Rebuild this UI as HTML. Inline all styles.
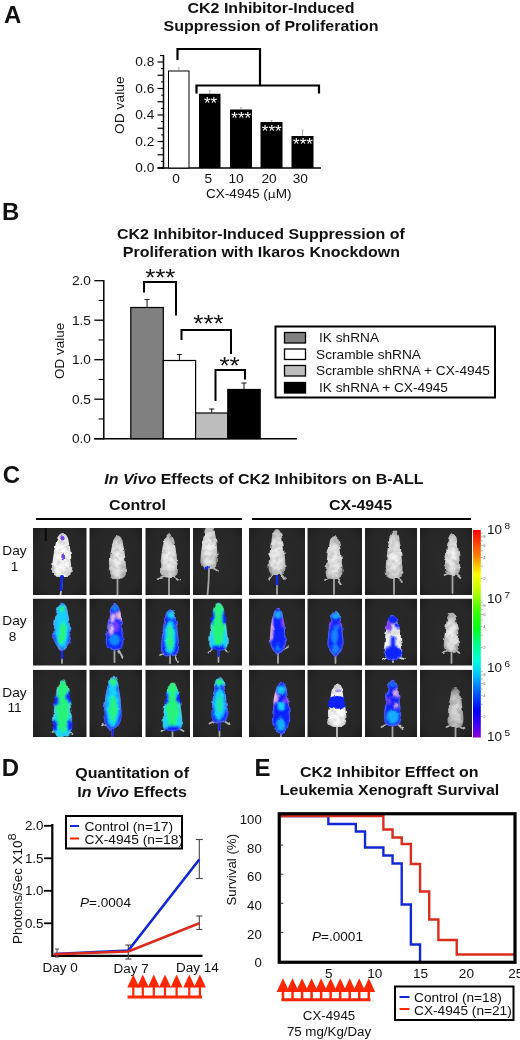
<!DOCTYPE html>
<html lang="en"><head><meta charset="utf-8"><title>CK2 inhibitor figure</title>
<style>html,body{margin:0;padding:0;background:#fff;}svg{display:block;font-family:'Liberation Sans', sans-serif;}text{white-space:pre;}</style></head><body>
<svg width="520" height="1040" viewBox="0 0 520 1040">
<defs>
<linearGradient id="cbar" x1="0" y1="0" x2="0" y2="1">
<stop offset="0" stop-color="#ff0000"/>
<stop offset="0.125" stop-color="#ff8000"/>
<stop offset="0.215" stop-color="#ffff00"/>
<stop offset="0.29" stop-color="#c0ff00"/>
<stop offset="0.385" stop-color="#40ff00"/>
<stop offset="0.48" stop-color="#00ff20"/>
<stop offset="0.555" stop-color="#00ff90"/>
<stop offset="0.63" stop-color="#00ffe0"/>
<stop offset="0.7" stop-color="#00c0ff"/>
<stop offset="0.78" stop-color="#0060ff"/>
<stop offset="0.87" stop-color="#0000ff"/>
<stop offset="0.94" stop-color="#4000ff"/>
<stop offset="1" stop-color="#9000d0"/>
</linearGradient>
<radialGradient id="tilebg" cx="0.5" cy="0.5" r="0.75"><stop offset="0" stop-color="#2b2b2b"/><stop offset="0.7" stop-color="#262626"/><stop offset="1" stop-color="#1c1c1c"/></radialGradient>
<radialGradient id="mg0" cx="0.5" cy="0.55" r="0.6"><stop offset="0" stop-color="#ffffff"/><stop offset="0.7" stop-color="#f4f4f4"/><stop offset="1" stop-color="#c4c4c4"/></radialGradient>
<radialGradient id="mg1" cx="0.5" cy="0.55" r="0.6"><stop offset="0" stop-color="#f6f6f6"/><stop offset="0.6" stop-color="#dedede"/><stop offset="1" stop-color="#a0a0a0"/></radialGradient>
<radialGradient id="mg2" cx="0.5" cy="0.6" r="0.6"><stop offset="0" stop-color="#e0e0e0"/><stop offset="0.6" stop-color="#c0c0c0"/><stop offset="1" stop-color="#8a8a8a"/></radialGradient>
<filter id="mb1" x="-20%" y="-20%" width="140%" height="140%"><feGaussianBlur stdDeviation="0.55"/></filter>
<filter id="tb" x="-300%" y="-10%" width="700%" height="120%"><feGaussianBlur stdDeviation="0.35"/></filter>
<filter id="body" x="-20%" y="-20%" width="140%" height="140%"><feGaussianBlur stdDeviation="0.55" result="b"/><feTurbulence type="fractalNoise" baseFrequency="0.2" numOctaves="2" seed="11" result="n"/><feColorMatrix in="n" type="matrix" values="0 0 0 0 0  0 0 0 0 0  0 0 0 0 0  0.75 0 0 0 -0.29" result="a"/><feComposite in="a" in2="b" operator="in" result="sh"/><feMerge><feMergeNode in="b"/><feMergeNode in="sh"/></feMerge></filter>
<filter id="mb2" x="-20%" y="-20%" width="140%" height="140%"><feGaussianBlur stdDeviation="1.1"/></filter>
<filter id="fur" x="-30%" y="-10%" width="160%" height="120%"><feTurbulence type="fractalNoise" baseFrequency="0.16" numOctaves="2" seed="7" result="n"/><feDisplacementMap in="SourceGraphic" in2="n" scale="3.6" xChannelSelector="R" yChannelSelector="G"/><feGaussianBlur stdDeviation="0.35"/></filter>
</defs>
<rect x="0" y="0" width="520" height="1040" fill="#fff" stroke="none" stroke-width="0" />
<g id="panelA">
<text transform="translate(4,22.9) scale(1,1.03)" font-size="24" font-weight="bold" text-anchor="start" fill="#111" >A</text>
<text transform="translate(271,13.1) scale(1,0.925)" font-size="16" font-weight="bold" text-anchor="middle" fill="#111" >CK2 Inhibitor-Induced</text>
<text transform="translate(271.1,31.25) scale(1,0.925)" font-size="16" font-weight="bold" text-anchor="middle" fill="#111" >Suppression of Proliferation</text>
<line x1="163.5" y1="55" x2="163.5" y2="168.75" stroke="#000" stroke-width="1.5" />
<line x1="160" y1="55.5" x2="163.5" y2="55.5" stroke="#000" stroke-width="1.2" />
<line x1="157.5" y1="168.0" x2="321" y2="168.0" stroke="#000" stroke-width="1.5" />
<line x1="157.5" y1="168.0" x2="163.5" y2="168.0" stroke="#000" stroke-width="1.2" />
<line x1="161" y1="161.375" x2="163.5" y2="161.375" stroke="#000" stroke-width="1.0" />
<line x1="157.5" y1="154.75" x2="163.5" y2="154.75" stroke="#000" stroke-width="1.2" />
<line x1="161" y1="148.125" x2="163.5" y2="148.125" stroke="#000" stroke-width="1.0" />
<line x1="157.5" y1="141.5" x2="163.5" y2="141.5" stroke="#000" stroke-width="1.2" />
<line x1="161" y1="134.875" x2="163.5" y2="134.875" stroke="#000" stroke-width="1.0" />
<line x1="157.5" y1="128.25" x2="163.5" y2="128.25" stroke="#000" stroke-width="1.2" />
<line x1="161" y1="121.625" x2="163.5" y2="121.625" stroke="#000" stroke-width="1.0" />
<line x1="157.5" y1="115.0" x2="163.5" y2="115.0" stroke="#000" stroke-width="1.2" />
<line x1="161" y1="108.375" x2="163.5" y2="108.375" stroke="#000" stroke-width="1.0" />
<line x1="157.5" y1="101.75" x2="163.5" y2="101.75" stroke="#000" stroke-width="1.2" />
<line x1="161" y1="95.125" x2="163.5" y2="95.125" stroke="#000" stroke-width="1.0" />
<line x1="157.5" y1="88.49999999999999" x2="163.5" y2="88.49999999999999" stroke="#000" stroke-width="1.2" />
<line x1="161" y1="81.875" x2="163.5" y2="81.875" stroke="#000" stroke-width="1.0" />
<line x1="157.5" y1="75.24999999999999" x2="163.5" y2="75.24999999999999" stroke="#000" stroke-width="1.2" />
<line x1="161" y1="68.625" x2="163.5" y2="68.625" stroke="#000" stroke-width="1.0" />
<line x1="157.5" y1="62.0" x2="163.5" y2="62.0" stroke="#000" stroke-width="1.2" />
<text transform="translate(154.3,172.4) scale(1,0.925)" font-size="13.7" font-weight="normal" text-anchor="end" fill="#111" >0.0</text>
<text transform="translate(154.3,145.9) scale(1,0.925)" font-size="13.7" font-weight="normal" text-anchor="end" fill="#111" >0.2</text>
<text transform="translate(154.3,119.4) scale(1,0.925)" font-size="13.7" font-weight="normal" text-anchor="end" fill="#111" >0.4</text>
<text transform="translate(154.3,92.9) scale(1,0.925)" font-size="13.7" font-weight="normal" text-anchor="end" fill="#111" >0.6</text>
<text transform="translate(154.3,66.4) scale(1,0.925)" font-size="13.7" font-weight="normal" text-anchor="end" fill="#111" >0.8</text>
<text x="0" y="0" font-size="13.8" font-weight="normal" text-anchor="start" fill="#111" transform="translate(123.5,133.9) rotate(-90) scale(1,0.925)">OD value</text>
<line x1="178.75" y1="67.8" x2="178.75" y2="70.5" stroke="#999" stroke-width="0.8" />
<line x1="177.55" y1="67.8" x2="179.95" y2="67.8" stroke="#aaa" stroke-width="0.7" />
<rect x="168.5" y="71.0" width="20.5" height="97.0" fill="#fff" stroke="#000" stroke-width="1" />
<line x1="209.75" y1="90.5" x2="209.75" y2="93.75" stroke="#999" stroke-width="0.8" />
<line x1="208.55" y1="90.5" x2="210.95" y2="90.5" stroke="#aaa" stroke-width="0.7" />
<rect x="199" y="93.75" width="21.5" height="74.25" fill="#000" stroke="none" stroke-width="0" />
<line x1="241.0" y1="107.5" x2="241.0" y2="109.5" stroke="#999" stroke-width="0.8" />
<line x1="239.8" y1="107.5" x2="242.2" y2="107.5" stroke="#aaa" stroke-width="0.7" />
<rect x="230" y="109.5" width="22" height="58.5" fill="#000" stroke="none" stroke-width="0" />
<line x1="271.5" y1="120.5" x2="271.5" y2="122" stroke="#999" stroke-width="0.8" />
<line x1="270.3" y1="120.5" x2="272.7" y2="120.5" stroke="#aaa" stroke-width="0.7" />
<rect x="260.5" y="122" width="22.0" height="46.0" fill="#000" stroke="none" stroke-width="0" />
<line x1="302.5" y1="130" x2="302.5" y2="136" stroke="#999" stroke-width="0.8" />
<line x1="301.3" y1="130" x2="303.7" y2="130" stroke="#aaa" stroke-width="0.7" />
<rect x="291.5" y="136" width="22.0" height="32.0" fill="#000" stroke="none" stroke-width="0" />
<text transform="translate(210.5,109.2) scale(1,0.925)" font-size="17" font-weight="normal" text-anchor="middle" fill="#fff" >**</text>
<text transform="translate(241.2,124.2) scale(1,0.925)" font-size="17" font-weight="normal" text-anchor="middle" fill="#fff" >***</text>
<text transform="translate(271.7,137.2) scale(1,0.925)" font-size="17" font-weight="normal" text-anchor="middle" fill="#fff" >***</text>
<text transform="translate(303,149.7) scale(1,0.925)" font-size="17" font-weight="normal" text-anchor="middle" fill="#fff" >***</text>
<path d="M177.5,60 V49 H260 V85.5" stroke="#000" stroke-width="2.2" fill="none" />
<path d="M196.5,93.5 V85.5 H319 V93.5" stroke="#000" stroke-width="2.2" fill="none" />
<text transform="translate(176,182.5) scale(1,0.925)" font-size="13.7" font-weight="normal" text-anchor="middle" fill="#111" >0</text>
<text transform="translate(208.25,182.5) scale(1,0.925)" font-size="13.7" font-weight="normal" text-anchor="middle" fill="#111" >5</text>
<text transform="translate(236,182.5) scale(1,0.925)" font-size="13.7" font-weight="normal" text-anchor="middle" fill="#111" >10</text>
<text transform="translate(269,182.5) scale(1,0.925)" font-size="13.7" font-weight="normal" text-anchor="middle" fill="#111" >20</text>
<text transform="translate(300.25,182.5) scale(1,0.925)" font-size="13.7" font-weight="normal" text-anchor="middle" fill="#111" >30</text>
<text transform="translate(248.75,197.5) scale(1,0.925)" font-size="13.6" font-weight="normal" text-anchor="middle" fill="#111" >CX-4945 (<tspan font-family="DejaVu Sans, sans-serif" font-size="12.3">μ</tspan>M)</text>
</g>
<g id="panelB">
<text transform="translate(2,220.25) scale(1,1.03)" font-size="24" font-weight="bold" text-anchor="start" fill="#111" >B</text>
<text transform="translate(260.9,238.7) scale(1,0.925)" font-size="16" font-weight="bold" text-anchor="middle" fill="#111" >CK2 Inhibitor-Induced Suppression of</text>
<text transform="translate(261.4,256.7) scale(1,0.925)" font-size="16" font-weight="bold" text-anchor="middle" fill="#111" >Proliferation with Ikaros Knockdown</text>
<line x1="103.8" y1="280.0" x2="103.8" y2="439.45" stroke="#000" stroke-width="1.5" />
<line x1="94.3" y1="438.7" x2="297" y2="438.7" stroke="#000" stroke-width="1.5" />
<line x1="94.3" y1="438.7" x2="103.8" y2="438.7" stroke="#000" stroke-width="1.3" />
<line x1="98.6" y1="418.95" x2="103.8" y2="418.95" stroke="#000" stroke-width="1.1" />
<line x1="94.3" y1="399.2" x2="103.8" y2="399.2" stroke="#000" stroke-width="1.3" />
<line x1="98.6" y1="379.45" x2="103.8" y2="379.45" stroke="#000" stroke-width="1.1" />
<line x1="94.3" y1="359.7" x2="103.8" y2="359.7" stroke="#000" stroke-width="1.3" />
<line x1="98.6" y1="339.95" x2="103.8" y2="339.95" stroke="#000" stroke-width="1.1" />
<line x1="94.3" y1="320.2" x2="103.8" y2="320.2" stroke="#000" stroke-width="1.3" />
<line x1="98.6" y1="300.45" x2="103.8" y2="300.45" stroke="#000" stroke-width="1.1" />
<line x1="94.3" y1="280.7" x2="103.8" y2="280.7" stroke="#000" stroke-width="1.3" />
<text transform="translate(91,443.09999999999997) scale(1,0.925)" font-size="13.7" font-weight="normal" text-anchor="end" fill="#111" >0.0</text>
<text transform="translate(91,403.59999999999997) scale(1,0.925)" font-size="13.7" font-weight="normal" text-anchor="end" fill="#111" >0.5</text>
<text transform="translate(91,364.09999999999997) scale(1,0.925)" font-size="13.7" font-weight="normal" text-anchor="end" fill="#111" >1.0</text>
<text transform="translate(91,324.59999999999997) scale(1,0.925)" font-size="13.7" font-weight="normal" text-anchor="end" fill="#111" >1.5</text>
<text transform="translate(91,285.09999999999997) scale(1,0.925)" font-size="13.7" font-weight="normal" text-anchor="end" fill="#111" >2.0</text>
<text x="0" y="0" font-size="13.5" font-weight="normal" text-anchor="start" fill="#111" transform="translate(63.7,379) rotate(-90) scale(1,0.925)">OD value</text>
<line x1="147.05" y1="299.5" x2="147.05" y2="307" stroke="#222" stroke-width="1.1" />
<line x1="144.55" y1="299.5" x2="149.55" y2="299.5" stroke="#222" stroke-width="1.1" />
<rect x="130.8" y="307.5" width="32.5" height="131.2" fill="#808080" stroke="#000" stroke-width="1.2" />
<line x1="179.45" y1="354.5" x2="179.45" y2="360" stroke="#222" stroke-width="1.1" />
<line x1="176.95" y1="354.5" x2="181.95" y2="354.5" stroke="#222" stroke-width="1.1" />
<rect x="163.3" y="360.5" width="32.29999999999998" height="78.19999999999999" fill="#fff" stroke="#000" stroke-width="1.2" />
<line x1="211.7" y1="409" x2="211.7" y2="412.5" stroke="#222" stroke-width="1.1" />
<line x1="209.2" y1="409" x2="214.2" y2="409" stroke="#222" stroke-width="1.1" />
<rect x="195.6" y="413.0" width="32.20000000000002" height="25.69999999999999" fill="#bdbdbd" stroke="#000" stroke-width="1.2" />
<line x1="244.0" y1="383" x2="244.0" y2="389" stroke="#222" stroke-width="1.1" />
<line x1="241.5" y1="383" x2="246.5" y2="383" stroke="#222" stroke-width="1.1" />
<rect x="227.8" y="389.5" width="32.39999999999998" height="49.19999999999999" fill="#000" stroke="#000" stroke-width="1.2" />
<path d="M144,292.5 V282 H176 V315.5" stroke="#000" stroke-width="2" fill="none" />
<path d="M181.5,340 V330 H231 V354" stroke="#000" stroke-width="2" fill="none" />
<path d="M215.5,401 V370 H245 V379.5" stroke="#000" stroke-width="2" fill="none" />
<text transform="translate(160.3,286.2) scale(1,0.925)" font-size="26" font-weight="normal" text-anchor="middle" fill="#111" >***</text>
<text transform="translate(208.5,332.2) scale(1,0.925)" font-size="26" font-weight="normal" text-anchor="middle" fill="#111" >***</text>
<text transform="translate(229.5,373.5) scale(1,0.925)" font-size="26" font-weight="normal" text-anchor="middle" fill="#111" >**</text>
<rect x="275.5" y="326.5" width="219.5" height="71" fill="#fff" stroke="#000" stroke-width="2" />
<rect x="284.5" y="332.5" width="21" height="10.5" fill="#808080" stroke="#000" stroke-width="1.3" />
<text transform="translate(319,342.2) scale(1,0.925)" font-size="13.7" font-weight="normal" text-anchor="start" fill="#111" >IK shRNA</text>
<rect x="284.5" y="349" width="21" height="10.5" fill="#fff" stroke="#000" stroke-width="1.3" />
<text transform="translate(316,358.7) scale(1,0.925)" font-size="13.7" font-weight="normal" text-anchor="start" fill="#111" >Scramble shRNA</text>
<rect x="284.5" y="365.5" width="21" height="10.5" fill="#bdbdbd" stroke="#000" stroke-width="1.3" />
<text transform="translate(316,375.2) scale(1,0.925)" font-size="13.7" font-weight="normal" text-anchor="start" fill="#111" >Scramble shRNA + CX-4945</text>
<rect x="284.5" y="382.5" width="21" height="10.5" fill="#000" stroke="#000" stroke-width="1.3" />
<text transform="translate(319,392.2) scale(1,0.925)" font-size="13.7" font-weight="normal" text-anchor="start" fill="#111" >IK shRNA + CX-4945</text>
</g>
<g id="panelC">
<text transform="translate(2.65,482.5) scale(1,1.03)" font-size="24" font-weight="bold" text-anchor="start" fill="#111" >C</text>
<text transform="translate(264,483.5) scale(1,0.925)" font-size="16" font-weight="bold" text-anchor="middle" fill="#111" ><tspan font-style="italic">In Vivo</tspan> Effects of CK2 Inhibitors on B-ALL</text>
<text transform="translate(137.5,510) scale(1,0.925)" font-size="16" font-weight="bold" text-anchor="middle" fill="#111" >Control</text>
<text transform="translate(360.5,510) scale(1,0.925)" font-size="16" font-weight="bold" text-anchor="middle" fill="#111" >CX-4945</text>
<line x1="36" y1="519" x2="242" y2="519" stroke="#000" stroke-width="2.2" />
<line x1="252" y1="519" x2="471" y2="519" stroke="#000" stroke-width="2.2" />
<text transform="translate(14.5,555.3) scale(1,0.925)" font-size="13.7" font-weight="normal" text-anchor="middle" fill="#111" >Day</text>
<text transform="translate(14.5,570.6) scale(1,0.925)" font-size="13.7" font-weight="normal" text-anchor="middle" fill="#111" >1</text>
<text transform="translate(14.5,625.3) scale(1,0.925)" font-size="13.7" font-weight="normal" text-anchor="middle" fill="#111" >Day</text>
<text transform="translate(12.5,640.8) scale(1,0.925)" font-size="13.7" font-weight="normal" text-anchor="middle" fill="#111" >8</text>
<text transform="translate(14.5,696.7) scale(1,0.925)" font-size="13.7" font-weight="normal" text-anchor="middle" fill="#111" >Day</text>
<text transform="translate(14.5,712) scale(1,0.925)" font-size="13.7" font-weight="normal" text-anchor="middle" fill="#111" >11</text>
<rect x="33" y="528" width="53.5" height="67" fill="url(#tilebg)" stroke="none" stroke-width="0" />
<rect x="89.5" y="528" width="52.5" height="67" fill="url(#tilebg)" stroke="none" stroke-width="0" />
<rect x="145.5" y="528" width="44.5" height="67" fill="url(#tilebg)" stroke="none" stroke-width="0" />
<rect x="193" y="528" width="49" height="67" fill="url(#tilebg)" stroke="none" stroke-width="0" />
<rect x="249" y="528" width="56" height="67" fill="url(#tilebg)" stroke="none" stroke-width="0" />
<rect x="307.5" y="528" width="54.5" height="67" fill="url(#tilebg)" stroke="none" stroke-width="0" />
<rect x="365" y="528" width="52" height="67" fill="url(#tilebg)" stroke="none" stroke-width="0" />
<rect x="420" y="528" width="52" height="67" fill="url(#tilebg)" stroke="none" stroke-width="0" />
<rect x="33" y="598.5" width="53.5" height="67.20000000000005" fill="url(#tilebg)" stroke="none" stroke-width="0" />
<rect x="89.5" y="598.5" width="52.5" height="67.20000000000005" fill="url(#tilebg)" stroke="none" stroke-width="0" />
<rect x="145.5" y="598.5" width="44.5" height="67.20000000000005" fill="url(#tilebg)" stroke="none" stroke-width="0" />
<rect x="193" y="598.5" width="49" height="67.20000000000005" fill="url(#tilebg)" stroke="none" stroke-width="0" />
<rect x="249" y="598.5" width="56" height="67.20000000000005" fill="url(#tilebg)" stroke="none" stroke-width="0" />
<rect x="307.5" y="598.5" width="54.5" height="67.20000000000005" fill="url(#tilebg)" stroke="none" stroke-width="0" />
<rect x="365" y="598.5" width="52" height="67.20000000000005" fill="url(#tilebg)" stroke="none" stroke-width="0" />
<rect x="420" y="598.5" width="52" height="67.20000000000005" fill="url(#tilebg)" stroke="none" stroke-width="0" />
<rect x="33" y="669.7" width="53.5" height="67.29999999999995" fill="url(#tilebg)" stroke="none" stroke-width="0" />
<rect x="89.5" y="669.7" width="52.5" height="67.29999999999995" fill="url(#tilebg)" stroke="none" stroke-width="0" />
<rect x="145.5" y="669.7" width="44.5" height="67.29999999999995" fill="url(#tilebg)" stroke="none" stroke-width="0" />
<rect x="193" y="669.7" width="49" height="67.29999999999995" fill="url(#tilebg)" stroke="none" stroke-width="0" />
<rect x="249" y="669.7" width="56" height="67.29999999999995" fill="url(#tilebg)" stroke="none" stroke-width="0" />
<rect x="307.5" y="669.7" width="54.5" height="67.29999999999995" fill="url(#tilebg)" stroke="none" stroke-width="0" />
<rect x="365" y="669.7" width="52" height="67.29999999999995" fill="url(#tilebg)" stroke="none" stroke-width="0" />
<rect x="420" y="669.7" width="52" height="67.29999999999995" fill="url(#tilebg)" stroke="none" stroke-width="0" />
<g opacity="0.92">
<path d="M62.0,574.0 Q62.0,586.0 60.5,595.0" stroke="#cfcfcf" stroke-width="1.8" fill="none" stroke-linecap="round"/>
<line x1="62" y1="577" x2="60.916666666666664" y2="590" stroke="#1428ff" stroke-width="2.6" stroke-linecap="round"/>
</g>
<g filter="url(#fur)">
<path d="M67.0,574.0 L72.0,572.0" stroke="#dcdcdc" stroke-width="1.8" fill="none" stroke-linecap="round"/>
<path d="M62.6,533.0 Q63.8,533.0 64.8,533.7 Q65.7,534.3 66.5,535.4 Q67.3,536.5 67.9,537.8 Q68.5,539.2 68.6,540.9 Q68.8,542.7 69.3,544.4 Q69.8,546.2 70.1,548.4 Q70.5,550.6 70.8,553.2 Q71.1,555.9 71.3,558.1 Q71.6,560.3 71.9,562.5 Q72.2,564.7 72.2,566.9 Q72.3,569.1 72.1,570.8 Q72.0,572.6 71.2,573.7 Q70.4,574.8 69.0,575.6 Q67.6,576.3 66.4,576.7 Q65.1,577.0 62.0,577.0 Q58.9,577.0 57.6,576.7 Q56.4,576.3 55.0,575.6 Q53.6,574.8 52.8,573.7 Q52.1,572.6 52.0,570.8 Q51.8,569.1 51.9,566.9 Q52.1,564.7 52.4,562.5 Q52.7,560.3 53.1,558.1 Q53.4,555.9 53.8,553.2 Q54.1,550.6 54.6,548.4 Q55.0,546.2 55.5,544.4 Q56.1,542.7 56.3,540.9 Q56.6,539.2 57.2,537.8 Q57.8,536.5 58.7,535.4 Q59.5,534.3 60.5,533.7 Q61.4,533.0 62.6,533.0Z" fill="url(#mg0)" filter="url(#body)"/>
<clipPath id="mc1"><path d="M62.6,533.0 Q63.8,533.0 64.8,533.7 Q65.7,534.3 66.5,535.4 Q67.3,536.5 67.9,537.8 Q68.5,539.2 68.6,540.9 Q68.8,542.7 69.3,544.4 Q69.8,546.2 70.1,548.4 Q70.5,550.6 70.8,553.2 Q71.1,555.9 71.3,558.1 Q71.6,560.3 71.9,562.5 Q72.2,564.7 72.2,566.9 Q72.3,569.1 72.1,570.8 Q72.0,572.6 71.2,573.7 Q70.4,574.8 69.0,575.6 Q67.6,576.3 66.4,576.7 Q65.1,577.0 62.0,577.0 Q58.9,577.0 57.6,576.7 Q56.4,576.3 55.0,575.6 Q53.6,574.8 52.8,573.7 Q52.1,572.6 52.0,570.8 Q51.8,569.1 51.9,566.9 Q52.1,564.7 52.4,562.5 Q52.7,560.3 53.1,558.1 Q53.4,555.9 53.8,553.2 Q54.1,550.6 54.6,548.4 Q55.0,546.2 55.5,544.4 Q56.1,542.7 56.3,540.9 Q56.6,539.2 57.2,537.8 Q57.8,536.5 58.7,535.4 Q59.5,534.3 60.5,533.7 Q61.4,533.0 62.6,533.0Z" transform="translate(62.0,555.0) scale(1.10,1.04) translate(-62.0,-555.0)"/></clipPath>
<g clip-path="url(#mc1)"><g filter="url(#mb1)">
<ellipse cx="62.5" cy="538.3" rx="2.1" ry="2.2" fill="#4a18e8" opacity="0.8"/>
<ellipse cx="62.7" cy="557.2" rx="1.4" ry="3.1" fill="#4a18e8" opacity="0.8"/>
<ellipse cx="62.0" cy="576.3" rx="1.8" ry="1.3" fill="#0a22ff" opacity="1"/>
</g></g>
</g>
<line x1="45.7" y1="528" x2="45.7" y2="541" stroke="#080808" stroke-width="1.8" />
<g opacity="0.92">
<path d="M117.5,576.0 Q117.5,587.0 117.5,595.0" stroke="#b0b0b0" stroke-width="1.8" fill="none" stroke-linecap="round"/>
</g>
<g filter="url(#fur)">
<path d="M117.8,535.5 Q118.9,535.5 119.7,536.2 Q120.5,536.8 121.2,537.9 Q121.8,539.0 122.4,540.3 Q122.9,541.6 123.0,543.3 Q123.2,545.1 123.6,546.8 Q124.0,548.5 124.4,550.7 Q124.7,552.9 124.9,555.5 Q125.2,558.1 125.4,560.3 Q125.6,562.5 125.9,564.6 Q126.1,566.8 126.2,569.0 Q126.3,571.2 126.1,572.9 Q126.0,574.6 125.3,575.7 Q124.7,576.8 123.5,577.6 Q122.3,578.3 121.2,578.7 Q120.1,579.0 117.5,579.0 Q114.9,579.0 113.8,578.7 Q112.7,578.3 111.5,577.6 Q110.3,576.8 109.7,575.7 Q109.0,574.6 108.9,572.9 Q108.8,571.2 108.9,569.0 Q109.0,566.8 109.3,564.6 Q109.5,562.5 109.8,560.3 Q110.1,558.1 110.4,555.5 Q110.7,552.9 111.1,550.7 Q111.4,548.5 111.9,546.8 Q112.3,545.1 112.5,543.3 Q112.7,541.6 113.3,540.3 Q113.8,539.0 114.5,537.9 Q115.2,536.8 116.0,536.2 Q116.8,535.5 117.8,535.5Z" fill="url(#mg1)" filter="url(#body)"/>
</g>
<g opacity="0.92">
<path d="M169.0,574.5 Q169.0,586.2 169.0,595.0" stroke="#b0b0b0" stroke-width="1.8" fill="none" stroke-linecap="round"/>
</g>
<g filter="url(#fur)">
<path d="M164.0,576.0 L158.0,578.5" stroke="#b4b4b4" stroke-width="1.8" fill="none" stroke-linecap="round"/>
<path d="M174.0,576.0 L180.0,579.5" stroke="#b4b4b4" stroke-width="1.8" fill="none" stroke-linecap="round"/>
<path d="M169.0,534.0 Q170.1,534.0 170.9,534.7 Q171.7,535.3 172.4,536.4 Q173.1,537.5 173.7,538.8 Q174.2,540.1 174.4,541.8 Q174.6,543.6 175.0,545.3 Q175.5,547.0 175.8,549.2 Q176.2,551.4 176.5,554.0 Q176.7,556.6 177.0,558.8 Q177.3,561.0 177.6,563.1 Q177.8,565.3 177.9,567.5 Q178.0,569.7 177.9,571.4 Q177.7,573.1 177.1,574.2 Q176.4,575.3 175.2,576.1 Q173.9,576.8 172.8,577.2 Q171.7,577.5 169.0,577.5 Q166.3,577.5 165.2,577.2 Q164.1,576.8 162.8,576.1 Q161.6,575.3 160.9,574.2 Q160.3,573.1 160.1,571.4 Q160.0,569.7 160.1,567.5 Q160.2,565.3 160.4,563.1 Q160.7,561.0 161.0,558.8 Q161.3,556.6 161.5,554.0 Q161.8,551.4 162.2,549.2 Q162.5,547.0 163.0,545.3 Q163.4,543.6 163.6,541.8 Q163.8,540.1 164.3,538.8 Q164.9,537.5 165.6,536.4 Q166.3,535.3 167.1,534.7 Q167.9,534.0 169.0,534.0Z" fill="url(#mg1)" filter="url(#body)"/>
</g>
<g opacity="0.92">
<path d="M209.0,566.0 Q209.0,582.0 207.5,595.0" stroke="#b0b0b0" stroke-width="1.8" fill="none" stroke-linecap="round"/>
</g>
<g filter="url(#fur)">
<path d="M213.0,568.0 L218.0,571.0" stroke="#b4b4b4" stroke-width="1.8" fill="none" stroke-linecap="round"/>
<path d="M209.9,524.0 Q210.9,524.0 211.7,524.7 Q212.5,525.4 213.1,526.5 Q213.8,527.6 214.3,529.0 Q214.8,530.3 214.9,532.1 Q215.1,533.9 215.5,535.7 Q215.9,537.5 216.2,539.8 Q216.5,542.0 216.7,544.7 Q216.9,547.4 217.1,549.6 Q217.3,551.9 217.5,554.1 Q217.7,556.4 217.8,558.6 Q217.8,560.9 217.7,562.7 Q217.5,564.5 216.9,565.6 Q216.2,566.8 215.0,567.5 Q213.8,568.3 212.7,568.7 Q211.6,569.0 209.0,569.0 Q206.4,569.0 205.3,568.7 Q204.2,568.3 203.0,567.5 Q201.8,566.8 201.2,565.6 Q200.6,564.5 200.5,562.7 Q200.3,560.9 200.5,558.6 Q200.6,556.4 200.9,554.1 Q201.2,551.9 201.5,549.6 Q201.8,547.4 202.1,544.7 Q202.5,542.0 202.9,539.8 Q203.3,537.5 203.7,535.7 Q204.2,533.9 204.4,532.1 Q204.6,530.3 205.2,529.0 Q205.8,527.6 206.5,526.5 Q207.2,525.4 208.0,524.7 Q208.8,524.0 209.9,524.0Z" fill="url(#mg1)" filter="url(#body)"/>
<clipPath id="mc4"><path d="M209.9,524.0 Q210.9,524.0 211.7,524.7 Q212.5,525.4 213.1,526.5 Q213.8,527.6 214.3,529.0 Q214.8,530.3 214.9,532.1 Q215.1,533.9 215.5,535.7 Q215.9,537.5 216.2,539.8 Q216.5,542.0 216.7,544.7 Q216.9,547.4 217.1,549.6 Q217.3,551.9 217.5,554.1 Q217.7,556.4 217.8,558.6 Q217.8,560.9 217.7,562.7 Q217.5,564.5 216.9,565.6 Q216.2,566.8 215.0,567.5 Q213.8,568.3 212.7,568.7 Q211.6,569.0 209.0,569.0 Q206.4,569.0 205.3,568.7 Q204.2,568.3 203.0,567.5 Q201.8,566.8 201.2,565.6 Q200.6,564.5 200.5,562.7 Q200.3,560.9 200.5,558.6 Q200.6,556.4 200.9,554.1 Q201.2,551.9 201.5,549.6 Q201.8,547.4 202.1,544.7 Q202.5,542.0 202.9,539.8 Q203.3,537.5 203.7,535.7 Q204.2,533.9 204.4,532.1 Q204.6,530.3 205.2,529.0 Q205.8,527.6 206.5,526.5 Q207.2,525.4 208.0,524.7 Q208.8,524.0 209.9,524.0Z" transform="translate(209.0,546.5) scale(1.10,1.04) translate(-209.0,-546.5)"/></clipPath>
<g clip-path="url(#mc4)"><g filter="url(#mb1)">
<ellipse cx="207.3" cy="568.3" rx="2.6" ry="1.8" fill="#0a22ff" opacity="1"/>
</g></g>
</g>
<g opacity="0.92">
<path d="M277.0,572.0 Q277.0,584.5 277.0,594.0" stroke="#b0b0b0" stroke-width="1.8" fill="none" stroke-linecap="round"/>
<line x1="277" y1="575" x2="277.0" y2="584" stroke="#1428ff" stroke-width="2.6" stroke-linecap="round"/>
</g>
<g filter="url(#fur)">
<path d="M273.0,574.0 L269.0,579.0" stroke="#b4b4b4" stroke-width="1.8" fill="none" stroke-linecap="round"/>
<path d="M281.0,574.0 L285.0,579.0" stroke="#b4b4b4" stroke-width="1.8" fill="none" stroke-linecap="round"/>
<path d="M277.0,529.0 Q278.0,529.0 278.8,529.7 Q279.6,530.4 280.2,531.5 Q280.9,532.7 281.4,534.1 Q281.9,535.4 282.1,537.3 Q282.3,539.1 282.7,541.0 Q283.1,542.8 283.5,545.1 Q283.8,547.4 284.1,550.2 Q284.3,552.9 284.6,555.2 Q284.8,557.5 285.1,559.8 Q285.3,562.1 285.4,564.4 Q285.5,566.7 285.4,568.6 Q285.2,570.4 284.6,571.5 Q284.0,572.7 282.8,573.5 Q281.7,574.3 280.6,574.7 Q279.6,575.0 277.0,575.0 Q274.4,575.0 273.4,574.7 Q272.3,574.3 271.2,573.5 Q270.0,572.7 269.4,571.5 Q268.8,570.4 268.6,568.6 Q268.5,566.7 268.6,564.4 Q268.7,562.1 268.9,559.8 Q269.2,557.5 269.4,555.2 Q269.7,552.9 269.9,550.2 Q270.2,547.4 270.5,545.1 Q270.9,542.8 271.3,541.0 Q271.7,539.1 271.9,537.3 Q272.1,535.4 272.6,534.1 Q273.1,532.7 273.8,531.5 Q274.4,530.4 275.2,529.7 Q276.0,529.0 277.0,529.0Z" fill="url(#mg1)" filter="url(#body)"/>
</g>
<g opacity="0.92">
<path d="M334.0,576.0 Q334.0,586.5 334.0,594.0" stroke="#b0b0b0" stroke-width="1.8" fill="none" stroke-linecap="round"/>
</g>
<g filter="url(#fur)">
<path d="M330.0,577.0 L325.0,580.0" stroke="#b4b4b4" stroke-width="1.8" fill="none" stroke-linecap="round"/>
<path d="M338.0,578.0 L342.0,584.0" stroke="#b4b4b4" stroke-width="1.8" fill="none" stroke-linecap="round"/>
<path d="M334.7,536.0 Q335.7,536.0 336.5,536.6 Q337.2,537.3 337.9,538.4 Q338.5,539.4 339.0,540.7 Q339.5,542.0 339.6,543.7 Q339.8,545.5 340.2,547.2 Q340.5,548.9 340.8,551.0 Q341.2,553.2 341.4,555.8 Q341.6,558.4 341.8,560.5 Q342.0,562.7 342.2,564.8 Q342.5,567.0 342.5,569.1 Q342.6,571.3 342.4,573.0 Q342.3,574.7 341.6,575.8 Q341.0,576.9 339.8,577.6 Q338.7,578.4 337.6,578.7 Q336.6,579.0 334.0,579.0 Q331.4,579.0 330.4,578.7 Q329.3,578.4 328.2,577.6 Q327.0,576.9 326.4,575.8 Q325.8,574.7 325.7,573.0 Q325.6,571.3 325.7,569.1 Q325.8,567.0 326.1,564.8 Q326.4,562.7 326.7,560.5 Q327.0,558.4 327.3,555.8 Q327.6,553.2 327.9,551.0 Q328.3,548.9 328.8,547.2 Q329.2,545.5 329.4,543.7 Q329.6,542.0 330.2,540.7 Q330.7,539.4 331.4,538.4 Q332.1,537.3 332.9,536.6 Q333.7,536.0 334.7,536.0Z" fill="url(#mg1)" filter="url(#body)"/>
</g>
<g opacity="0.92">
<path d="M394.0,576.0 Q394.0,586.5 394.0,594.0" stroke="#b0b0b0" stroke-width="1.8" fill="none" stroke-linecap="round"/>
</g>
<g filter="url(#fur)">
<path d="M398.0,578.0 L403.0,582.0" stroke="#b4b4b4" stroke-width="1.8" fill="none" stroke-linecap="round"/>
<path d="M394.5,530.5 Q395.5,530.5 396.3,531.2 Q397.0,532.0 397.7,533.2 Q398.4,534.4 398.9,535.8 Q399.3,537.3 399.5,539.2 Q399.6,541.2 400.0,543.1 Q400.4,545.0 400.8,547.5 Q401.1,549.9 401.3,552.8 Q401.5,555.7 401.7,558.1 Q402.0,560.6 402.2,563.0 Q402.4,565.4 402.5,567.8 Q402.6,570.3 402.4,572.2 Q402.3,574.1 401.6,575.4 Q401.0,576.6 399.8,577.4 Q398.7,578.3 397.6,578.6 Q396.6,579.0 394.0,579.0 Q391.4,579.0 390.4,578.6 Q389.3,578.3 388.2,577.4 Q387.0,576.6 386.4,575.4 Q385.8,574.1 385.7,572.2 Q385.6,570.3 385.7,567.8 Q385.8,565.4 386.0,563.0 Q386.3,560.6 386.6,558.1 Q386.9,555.7 387.2,552.8 Q387.5,549.9 387.8,547.5 Q388.2,545.0 388.6,543.1 Q389.1,541.2 389.3,539.2 Q389.5,537.3 390.0,535.8 Q390.5,534.4 391.2,533.2 Q391.9,532.0 392.7,531.2 Q393.5,530.5 394.5,530.5Z" fill="url(#mg1)" filter="url(#body)"/>
</g>
<g opacity="0.92">
<path d="M452.5,572.0 Q452.5,584.0 452.5,593.0" stroke="#b0b0b0" stroke-width="1.8" fill="none" stroke-linecap="round"/>
</g>
<g filter="url(#fur)">
<path d="M448.5,573.5 L444.5,575.0" stroke="#b4b4b4" stroke-width="1.8" fill="none" stroke-linecap="round"/>
<path d="M456.5,573.5 L460.5,577.0" stroke="#b4b4b4" stroke-width="1.8" fill="none" stroke-linecap="round"/>
<path d="M452.5,533.0 Q453.4,533.0 454.1,533.6 Q454.8,534.3 455.4,535.3 Q456.1,536.4 456.5,537.6 Q457.0,538.9 457.1,540.6 Q457.3,542.2 457.7,543.9 Q458.1,545.6 458.4,547.7 Q458.7,549.8 458.9,552.3 Q459.2,554.8 459.4,556.9 Q459.6,559.0 459.9,561.1 Q460.1,563.2 460.2,565.3 Q460.2,567.4 460.1,569.1 Q460.0,570.8 459.4,571.8 Q458.9,572.9 457.8,573.6 Q456.8,574.4 455.8,574.7 Q454.8,575.0 452.5,575.0 Q450.2,575.0 449.2,574.7 Q448.2,574.4 447.2,573.6 Q446.1,572.9 445.6,571.8 Q445.0,570.8 444.9,569.1 Q444.8,567.4 444.8,565.3 Q444.9,563.2 445.1,561.1 Q445.4,559.0 445.6,556.9 Q445.8,554.8 446.1,552.3 Q446.3,549.8 446.6,547.7 Q446.9,545.6 447.3,543.9 Q447.7,542.2 447.9,540.6 Q448.0,538.9 448.5,537.6 Q448.9,536.4 449.6,535.3 Q450.2,534.3 450.9,533.6 Q451.6,533.0 452.5,533.0Z" fill="url(#mg1)" filter="url(#body)"/>
</g>
<g opacity="0.92">
<path d="M62.0,648.0 Q62.0,657.0 62.0,663.0" stroke="#b0b0b0" stroke-width="1.8" fill="none" stroke-linecap="round"/>
<line x1="62" y1="648" x2="62.0" y2="658" stroke="#1428ff" stroke-width="2.2" stroke-linecap="round"/>
</g>
<g filter="url(#fur)">
<path d="M62.0,603.0 Q63.1,603.0 63.9,603.7 Q64.8,604.4 65.5,605.6 Q66.3,606.8 66.8,608.3 Q67.4,609.7 67.5,611.6 Q67.7,613.6 68.2,615.5 Q68.7,617.4 69.0,619.8 Q69.4,622.2 69.7,625.1 Q70.0,628.0 70.2,630.4 Q70.5,632.8 70.7,635.2 Q71.0,637.6 70.2,640.0 Q69.4,642.4 68.2,644.3 Q67.0,646.2 65.9,647.4 Q64.8,648.6 63.9,649.4 Q63.1,650.3 62.8,650.6 Q62.4,651.0 62.0,651.0 Q61.6,651.0 61.2,650.6 Q60.9,650.3 60.1,649.4 Q59.2,648.6 58.1,647.4 Q57.0,646.2 55.8,644.3 Q54.6,642.4 53.8,640.0 Q53.0,637.6 53.3,635.2 Q53.5,632.8 53.8,630.4 Q54.0,628.0 54.3,625.1 Q54.6,622.2 55.0,619.8 Q55.3,617.4 55.8,615.5 Q56.3,613.6 56.5,611.6 Q56.6,609.7 57.2,608.3 Q57.7,606.8 58.5,605.6 Q59.2,604.4 60.1,603.7 Q60.9,603.0 62.0,603.0Z" fill="url(#mg1)" filter="url(#body)"/>
<clipPath id="mc9"><path d="M62.0,603.0 Q63.1,603.0 63.9,603.7 Q64.8,604.4 65.5,605.6 Q66.3,606.8 66.8,608.3 Q67.4,609.7 67.5,611.6 Q67.7,613.6 68.2,615.5 Q68.7,617.4 69.0,619.8 Q69.4,622.2 69.7,625.1 Q70.0,628.0 70.2,630.4 Q70.5,632.8 70.7,635.2 Q71.0,637.6 70.2,640.0 Q69.4,642.4 68.2,644.3 Q67.0,646.2 65.9,647.4 Q64.8,648.6 63.9,649.4 Q63.1,650.3 62.8,650.6 Q62.4,651.0 62.0,651.0 Q61.6,651.0 61.2,650.6 Q60.9,650.3 60.1,649.4 Q59.2,648.6 58.1,647.4 Q57.0,646.2 55.8,644.3 Q54.6,642.4 53.8,640.0 Q53.0,637.6 53.3,635.2 Q53.5,632.8 53.8,630.4 Q54.0,628.0 54.3,625.1 Q54.6,622.2 55.0,619.8 Q55.3,617.4 55.8,615.5 Q56.3,613.6 56.5,611.6 Q56.6,609.7 57.2,608.3 Q57.7,606.8 58.5,605.6 Q59.2,604.4 60.1,603.7 Q60.9,603.0 62.0,603.0Z" transform="translate(62.0,627.0) scale(1.10,1.04) translate(-62.0,-627.0)"/></clipPath>
<g clip-path="url(#mc9)"><g filter="url(#mb2)">
<path d="M62.0,603.0 Q63.1,603.0 63.9,603.7 Q64.8,604.4 65.5,605.6 Q66.3,606.8 66.8,608.3 Q67.4,609.7 67.5,611.6 Q67.7,613.6 68.2,615.5 Q68.7,617.4 69.0,619.8 Q69.4,622.2 69.7,625.1 Q70.0,628.0 70.2,630.4 Q70.5,632.8 70.7,635.2 Q71.0,637.6 70.2,640.0 Q69.4,642.4 68.2,644.3 Q67.0,646.2 65.9,647.4 Q64.8,648.6 63.9,649.4 Q63.1,650.3 62.8,650.6 Q62.4,651.0 62.0,651.0 Q61.6,651.0 61.2,650.6 Q60.9,650.3 60.1,649.4 Q59.2,648.6 58.1,647.4 Q57.0,646.2 55.8,644.3 Q54.6,642.4 53.8,640.0 Q53.0,637.6 53.3,635.2 Q53.5,632.8 53.8,630.4 Q54.0,628.0 54.3,625.1 Q54.6,622.2 55.0,619.8 Q55.3,617.4 55.8,615.5 Q56.3,613.6 56.5,611.6 Q56.6,609.7 57.2,608.3 Q57.7,606.8 58.5,605.6 Q59.2,604.4 60.1,603.7 Q60.9,603.0 62.0,603.0Z" fill="#0a22ff"/>
<ellipse cx="62.0" cy="627.0" rx="6.9" ry="21.6" fill="#14d0ff" opacity="1"/>
<ellipse cx="62.0" cy="608.8" rx="4.6" ry="4.3" fill="#14d0ff" opacity="1"/>
<ellipse cx="62.5" cy="609.2" rx="2.8" ry="2.9" fill="#28f47a" opacity="1"/>
<ellipse cx="62.9" cy="631.8" rx="3.2" ry="9.6" fill="#28f47a" opacity="1"/>
<ellipse cx="61.1" cy="639.0" rx="2.8" ry="4.8" fill="#28f47a" opacity="1"/>
</g></g>
</g>
<g opacity="0.92">
<path d="M114.5,647.0 Q114.5,656.0 114.5,662.0" stroke="#b0b0b0" stroke-width="1.8" fill="none" stroke-linecap="round"/>
</g>
<g filter="url(#fur)">
<path d="M118.5,650.0 L122.5,657.0" stroke="#b4b4b4" stroke-width="1.8" fill="none" stroke-linecap="round"/>
<path d="M115.0,604.0 Q116.1,604.0 116.9,604.7 Q117.6,605.4 118.3,606.5 Q119.0,607.7 119.5,609.1 Q120.0,610.4 120.2,612.3 Q120.3,614.1 120.7,616.0 Q121.1,617.8 121.5,620.1 Q121.8,622.4 122.0,625.2 Q122.2,627.9 122.5,630.2 Q122.7,632.5 122.9,634.8 Q123.2,637.1 123.2,639.4 Q123.3,641.7 123.2,643.6 Q123.0,645.4 122.3,646.5 Q121.7,647.7 120.5,648.5 Q119.3,649.3 118.2,649.7 Q117.1,650.0 114.5,650.0 Q111.9,650.0 110.8,649.7 Q109.7,649.3 108.5,648.5 Q107.3,647.7 106.7,646.5 Q106.0,645.4 105.9,643.6 Q105.8,641.7 105.9,639.4 Q106.0,637.1 106.3,634.8 Q106.6,632.5 106.9,630.2 Q107.2,627.9 107.5,625.2 Q107.8,622.4 108.2,620.1 Q108.5,617.8 109.0,616.0 Q109.5,614.1 109.7,612.3 Q109.9,610.4 110.4,609.1 Q110.9,607.7 111.7,606.5 Q112.4,605.4 113.2,604.7 Q114.0,604.0 115.0,604.0Z" fill="url(#mg1)" filter="url(#body)"/>
<clipPath id="mc10"><path d="M115.0,604.0 Q116.1,604.0 116.9,604.7 Q117.6,605.4 118.3,606.5 Q119.0,607.7 119.5,609.1 Q120.0,610.4 120.2,612.3 Q120.3,614.1 120.7,616.0 Q121.1,617.8 121.5,620.1 Q121.8,622.4 122.0,625.2 Q122.2,627.9 122.5,630.2 Q122.7,632.5 122.9,634.8 Q123.2,637.1 123.2,639.4 Q123.3,641.7 123.2,643.6 Q123.0,645.4 122.3,646.5 Q121.7,647.7 120.5,648.5 Q119.3,649.3 118.2,649.7 Q117.1,650.0 114.5,650.0 Q111.9,650.0 110.8,649.7 Q109.7,649.3 108.5,648.5 Q107.3,647.7 106.7,646.5 Q106.0,645.4 105.9,643.6 Q105.8,641.7 105.9,639.4 Q106.0,637.1 106.3,634.8 Q106.6,632.5 106.9,630.2 Q107.2,627.9 107.5,625.2 Q107.8,622.4 108.2,620.1 Q108.5,617.8 109.0,616.0 Q109.5,614.1 109.7,612.3 Q109.9,610.4 110.4,609.1 Q110.9,607.7 111.7,606.5 Q112.4,605.4 113.2,604.7 Q114.0,604.0 115.0,604.0Z" transform="translate(114.5,627.0) scale(1.10,1.04) translate(-114.5,-627.0)"/></clipPath>
<g clip-path="url(#mc10)"><g filter="url(#mb2)">
<path d="M115.0,604.0 Q116.1,604.0 116.9,604.7 Q117.6,605.4 118.3,606.5 Q119.0,607.7 119.5,609.1 Q120.0,610.4 120.2,612.3 Q120.3,614.1 120.7,616.0 Q121.1,617.8 121.5,620.1 Q121.8,622.4 122.0,625.2 Q122.2,627.9 122.5,630.2 Q122.7,632.5 122.9,634.8 Q123.2,637.1 123.2,639.4 Q123.3,641.7 123.2,643.6 Q123.0,645.4 122.3,646.5 Q121.7,647.7 120.5,648.5 Q119.3,649.3 118.2,649.7 Q117.1,650.0 114.5,650.0 Q111.9,650.0 110.8,649.7 Q109.7,649.3 108.5,648.5 Q107.3,647.7 106.7,646.5 Q106.0,645.4 105.9,643.6 Q105.8,641.7 105.9,639.4 Q106.0,637.1 106.3,634.8 Q106.6,632.5 106.9,630.2 Q107.2,627.9 107.5,625.2 Q107.8,622.4 108.2,620.1 Q108.5,617.8 109.0,616.0 Q109.5,614.1 109.7,612.3 Q109.9,610.4 110.4,609.1 Q110.9,607.7 111.7,606.5 Q112.4,605.4 113.2,604.7 Q114.0,604.0 115.0,604.0Z" fill="#0a22ff"/>
<ellipse cx="113.1" cy="617.8" rx="2.6" ry="4.6" fill="#e9b7e6" opacity="1"/>
<ellipse cx="119.2" cy="615.5" rx="2.6" ry="3.7" fill="#e9b7e6" opacity="1"/>
<ellipse cx="111.2" cy="629.3" rx="2.2" ry="5.5" fill="#e9b7e6" opacity="1"/>
<ellipse cx="116.5" cy="627.0" rx="2.6" ry="4.6" fill="#7a3cff" opacity="1"/>
<ellipse cx="114.6" cy="639.9" rx="5.2" ry="5.5" fill="#14d0ff" opacity="0.6"/>
<ellipse cx="115.0" cy="608.6" rx="2.6" ry="2.8" fill="#14d0ff" opacity="0.6"/>
</g></g>
</g>
<g opacity="0.92">
<path d="M170.0,653.0 Q170.0,659.5 170.0,663.0" stroke="#b0b0b0" stroke-width="1.8" fill="none" stroke-linecap="round"/>
</g>
<g filter="url(#fur)">
<path d="M165.0,653.0 L160.0,655.0" stroke="#b4b4b4" stroke-width="1.8" fill="none" stroke-linecap="round"/>
<path d="M175.0,654.0 L178.0,661.0" stroke="#b4b4b4" stroke-width="1.8" fill="none" stroke-linecap="round"/>
<path d="M170.4,609.5 Q171.4,609.5 172.2,610.2 Q173.0,610.9 173.8,612.1 Q174.5,613.2 175.0,614.6 Q175.5,616.0 175.7,617.9 Q175.8,619.7 176.3,621.6 Q176.7,623.5 177.0,625.8 Q177.4,628.1 177.6,630.9 Q177.9,633.7 178.1,636.0 Q178.4,638.3 178.6,640.7 Q178.9,643.0 179.0,645.3 Q179.0,647.6 178.9,649.5 Q178.7,651.4 178.1,652.5 Q177.4,653.7 176.2,654.5 Q175.0,655.3 173.8,655.7 Q172.7,656.0 170.0,656.0 Q167.3,656.0 166.2,655.7 Q165.1,655.3 163.8,654.5 Q162.6,653.7 162.0,652.5 Q161.3,651.4 161.2,649.5 Q161.0,647.6 161.1,645.3 Q161.2,643.0 161.5,640.7 Q161.8,638.3 162.1,636.0 Q162.4,633.7 162.7,630.9 Q163.0,628.1 163.4,625.8 Q163.7,623.5 164.2,621.6 Q164.7,619.7 164.9,617.9 Q165.1,616.0 165.6,614.6 Q166.2,613.2 166.9,612.1 Q167.6,610.9 168.5,610.2 Q169.3,609.5 170.4,609.5Z" fill="url(#mg1)" filter="url(#body)"/>
<clipPath id="mc11"><path d="M170.4,609.5 Q171.4,609.5 172.2,610.2 Q173.0,610.9 173.8,612.1 Q174.5,613.2 175.0,614.6 Q175.5,616.0 175.7,617.9 Q175.8,619.7 176.3,621.6 Q176.7,623.5 177.0,625.8 Q177.4,628.1 177.6,630.9 Q177.9,633.7 178.1,636.0 Q178.4,638.3 178.6,640.7 Q178.9,643.0 179.0,645.3 Q179.0,647.6 178.9,649.5 Q178.7,651.4 178.1,652.5 Q177.4,653.7 176.2,654.5 Q175.0,655.3 173.8,655.7 Q172.7,656.0 170.0,656.0 Q167.3,656.0 166.2,655.7 Q165.1,655.3 163.8,654.5 Q162.6,653.7 162.0,652.5 Q161.3,651.4 161.2,649.5 Q161.0,647.6 161.1,645.3 Q161.2,643.0 161.5,640.7 Q161.8,638.3 162.1,636.0 Q162.4,633.7 162.7,630.9 Q163.0,628.1 163.4,625.8 Q163.7,623.5 164.2,621.6 Q164.7,619.7 164.9,617.9 Q165.1,616.0 165.6,614.6 Q166.2,613.2 166.9,612.1 Q167.6,610.9 168.5,610.2 Q169.3,609.5 170.4,609.5Z" transform="translate(170.0,632.8) scale(1.10,1.04) translate(-170.0,-632.8)"/></clipPath>
<g clip-path="url(#mc11)"><g filter="url(#mb2)">
<path d="M170.4,609.5 Q171.4,609.5 172.2,610.2 Q173.0,610.9 173.8,612.1 Q174.5,613.2 175.0,614.6 Q175.5,616.0 175.7,617.9 Q175.8,619.7 176.3,621.6 Q176.7,623.5 177.0,625.8 Q177.4,628.1 177.6,630.9 Q177.9,633.7 178.1,636.0 Q178.4,638.3 178.6,640.7 Q178.9,643.0 179.0,645.3 Q179.0,647.6 178.9,649.5 Q178.7,651.4 178.1,652.5 Q177.4,653.7 176.2,654.5 Q175.0,655.3 173.8,655.7 Q172.7,656.0 170.0,656.0 Q167.3,656.0 166.2,655.7 Q165.1,655.3 163.8,654.5 Q162.6,653.7 162.0,652.5 Q161.3,651.4 161.2,649.5 Q161.0,647.6 161.1,645.3 Q161.2,643.0 161.5,640.7 Q161.8,638.3 162.1,636.0 Q162.4,633.7 162.7,630.9 Q163.0,628.1 163.4,625.8 Q163.7,623.5 164.2,621.6 Q164.7,619.7 164.9,617.9 Q165.1,616.0 165.6,614.6 Q166.2,613.2 166.9,612.1 Q167.6,610.9 168.5,610.2 Q169.3,609.5 170.4,609.5Z" fill="#0a22ff"/>
<ellipse cx="170.1" cy="637.4" rx="5.4" ry="16.3" fill="#14d0ff" opacity="1"/>
<ellipse cx="171.2" cy="615.1" rx="3.6" ry="3.7" fill="#14d0ff" opacity="1"/>
<ellipse cx="170.1" cy="642.0" rx="3.1" ry="8.4" fill="#28f47a" opacity="1"/>
<ellipse cx="170.2" cy="630.4" rx="2.2" ry="5.6" fill="#28f47a" opacity="1"/>
</g></g>
</g>
<g opacity="0.92">
<path d="M218.5,647.5 Q218.5,656.2 218.5,662.0" stroke="#b0b0b0" stroke-width="1.8" fill="none" stroke-linecap="round"/>
<line x1="218.5" y1="650" x2="218.5" y2="656" stroke="#1428ff" stroke-width="2.2" stroke-linecap="round"/>
</g>
<g filter="url(#fur)">
<path d="M213.5,648.5 L208.5,651.5" stroke="#b4b4b4" stroke-width="1.8" fill="none" stroke-linecap="round"/>
<path d="M223.5,648.5 L228.5,651.5" stroke="#b4b4b4" stroke-width="1.8" fill="none" stroke-linecap="round"/>
<path d="M218.5,603.0 Q219.6,603.0 220.4,603.7 Q221.2,604.4 221.9,605.6 Q222.6,606.8 223.2,608.2 Q223.7,609.6 223.9,611.5 Q224.1,613.5 224.5,615.4 Q225.0,617.2 225.3,619.6 Q225.7,622.0 226.0,624.9 Q226.2,627.7 226.5,630.1 Q226.8,632.5 227.1,634.8 Q227.3,637.2 227.4,639.6 Q227.5,642.0 227.4,643.9 Q227.2,645.8 226.6,646.9 Q225.9,648.1 224.7,649.0 Q223.4,649.8 222.3,650.1 Q221.2,650.5 218.5,650.5 Q215.8,650.5 214.7,650.1 Q213.6,649.8 212.3,649.0 Q211.1,648.1 210.4,646.9 Q209.8,645.8 209.6,643.9 Q209.5,642.0 209.6,639.6 Q209.7,637.2 209.9,634.8 Q210.2,632.5 210.5,630.1 Q210.8,627.7 211.0,624.9 Q211.3,622.0 211.7,619.6 Q212.0,617.2 212.5,615.4 Q212.9,613.5 213.1,611.5 Q213.3,609.6 213.8,608.2 Q214.4,606.8 215.1,605.6 Q215.8,604.4 216.6,603.7 Q217.4,603.0 218.5,603.0Z" fill="url(#mg1)" filter="url(#body)"/>
<clipPath id="mc12"><path d="M218.5,603.0 Q219.6,603.0 220.4,603.7 Q221.2,604.4 221.9,605.6 Q222.6,606.8 223.2,608.2 Q223.7,609.6 223.9,611.5 Q224.1,613.5 224.5,615.4 Q225.0,617.2 225.3,619.6 Q225.7,622.0 226.0,624.9 Q226.2,627.7 226.5,630.1 Q226.8,632.5 227.1,634.8 Q227.3,637.2 227.4,639.6 Q227.5,642.0 227.4,643.9 Q227.2,645.8 226.6,646.9 Q225.9,648.1 224.7,649.0 Q223.4,649.8 222.3,650.1 Q221.2,650.5 218.5,650.5 Q215.8,650.5 214.7,650.1 Q213.6,649.8 212.3,649.0 Q211.1,648.1 210.4,646.9 Q209.8,645.8 209.6,643.9 Q209.5,642.0 209.6,639.6 Q209.7,637.2 209.9,634.8 Q210.2,632.5 210.5,630.1 Q210.8,627.7 211.0,624.9 Q211.3,622.0 211.7,619.6 Q212.0,617.2 212.5,615.4 Q212.9,613.5 213.1,611.5 Q213.3,609.6 213.8,608.2 Q214.4,606.8 215.1,605.6 Q215.8,604.4 216.6,603.7 Q217.4,603.0 218.5,603.0Z" transform="translate(218.5,626.8) scale(1.10,1.04) translate(-218.5,-626.8)"/></clipPath>
<g clip-path="url(#mc12)"><g filter="url(#mb2)">
<path d="M218.5,603.0 Q219.6,603.0 220.4,603.7 Q221.2,604.4 221.9,605.6 Q222.6,606.8 223.2,608.2 Q223.7,609.6 223.9,611.5 Q224.1,613.5 224.5,615.4 Q225.0,617.2 225.3,619.6 Q225.7,622.0 226.0,624.9 Q226.2,627.7 226.5,630.1 Q226.8,632.5 227.1,634.8 Q227.3,637.2 227.4,639.6 Q227.5,642.0 227.4,643.9 Q227.2,645.8 226.6,646.9 Q225.9,648.1 224.7,649.0 Q223.4,649.8 222.3,650.1 Q221.2,650.5 218.5,650.5 Q215.8,650.5 214.7,650.1 Q213.6,649.8 212.3,649.0 Q211.1,648.1 210.4,646.9 Q209.8,645.8 209.6,643.9 Q209.5,642.0 209.6,639.6 Q209.7,637.2 209.9,634.8 Q210.2,632.5 210.5,630.1 Q210.8,627.7 211.0,624.9 Q211.3,622.0 211.7,619.6 Q212.0,617.2 212.5,615.4 Q212.9,613.5 213.1,611.5 Q213.3,609.6 213.8,608.2 Q214.4,606.8 215.1,605.6 Q215.8,604.4 216.6,603.7 Q217.4,603.0 218.5,603.0Z" fill="#14d0ff"/>
<ellipse cx="218.5" cy="626.8" rx="6.3" ry="19.0" fill="#28f47a" opacity="1"/>
<ellipse cx="218.5" cy="608.7" rx="5.0" ry="4.8" fill="#28f47a" opacity="1"/>
<ellipse cx="212.2" cy="617.2" rx="2.7" ry="7.1" fill="#0a22ff" opacity="1"/>
<ellipse cx="224.8" cy="617.2" rx="2.7" ry="7.1" fill="#0a22ff" opacity="1"/>
<ellipse cx="218.5" cy="648.1" rx="7.2" ry="2.9" fill="#0a22ff" opacity="1"/>
</g></g>
</g>
<g opacity="0.92">
<path d="M278.0,652.0 Q278.0,659.0 278.0,663.0" stroke="#b0b0b0" stroke-width="1.8" fill="none" stroke-linecap="round"/>
</g>
<g filter="url(#fur)">
<path d="M282.0,650.0 L288.0,647.0" stroke="#b4b4b4" stroke-width="1.8" fill="none" stroke-linecap="round"/>
<path d="M278.0,608.0 Q279.0,608.0 279.7,608.7 Q280.5,609.4 281.1,610.6 Q281.8,611.8 282.3,613.2 Q282.8,614.6 283.0,616.5 Q283.1,618.3 283.5,620.2 Q283.9,622.1 284.3,624.5 Q284.6,626.8 284.8,629.6 Q285.1,632.4 285.3,634.8 Q285.6,637.1 285.8,639.5 Q286.0,641.8 285.5,644.2 Q285.0,646.5 284.1,648.4 Q283.2,650.3 282.2,651.5 Q281.3,652.6 280.5,653.5 Q279.7,654.3 279.2,654.6 Q278.8,655.0 278.0,655.0 Q277.2,655.0 276.8,654.6 Q276.3,654.3 275.5,653.5 Q274.7,652.6 273.8,651.5 Q272.8,650.3 271.9,648.4 Q271.0,646.5 270.5,644.2 Q270.0,641.8 270.2,639.5 Q270.4,637.1 270.7,634.8 Q270.9,632.4 271.2,629.6 Q271.4,626.8 271.7,624.5 Q272.1,622.1 272.5,620.2 Q272.9,618.3 273.0,616.5 Q273.2,614.6 273.7,613.2 Q274.2,611.8 274.9,610.6 Q275.5,609.4 276.3,608.7 Q277.0,608.0 278.0,608.0Z" fill="url(#mg1)" filter="url(#body)"/>
<clipPath id="mc13"><path d="M278.0,608.0 Q279.0,608.0 279.7,608.7 Q280.5,609.4 281.1,610.6 Q281.8,611.8 282.3,613.2 Q282.8,614.6 283.0,616.5 Q283.1,618.3 283.5,620.2 Q283.9,622.1 284.3,624.5 Q284.6,626.8 284.8,629.6 Q285.1,632.4 285.3,634.8 Q285.6,637.1 285.8,639.5 Q286.0,641.8 285.5,644.2 Q285.0,646.5 284.1,648.4 Q283.2,650.3 282.2,651.5 Q281.3,652.6 280.5,653.5 Q279.7,654.3 279.2,654.6 Q278.8,655.0 278.0,655.0 Q277.2,655.0 276.8,654.6 Q276.3,654.3 275.5,653.5 Q274.7,652.6 273.8,651.5 Q272.8,650.3 271.9,648.4 Q271.0,646.5 270.5,644.2 Q270.0,641.8 270.2,639.5 Q270.4,637.1 270.7,634.8 Q270.9,632.4 271.2,629.6 Q271.4,626.8 271.7,624.5 Q272.1,622.1 272.5,620.2 Q272.9,618.3 273.0,616.5 Q273.2,614.6 273.7,613.2 Q274.2,611.8 274.9,610.6 Q275.5,609.4 276.3,608.7 Q277.0,608.0 278.0,608.0Z" transform="translate(278.0,631.5) scale(1.10,1.04) translate(-278.0,-631.5)"/></clipPath>
<g clip-path="url(#mc13)"><g filter="url(#mb2)">
<path d="M278.0,608.0 Q279.0,608.0 279.7,608.7 Q280.5,609.4 281.1,610.6 Q281.8,611.8 282.3,613.2 Q282.8,614.6 283.0,616.5 Q283.1,618.3 283.5,620.2 Q283.9,622.1 284.3,624.5 Q284.6,626.8 284.8,629.6 Q285.1,632.4 285.3,634.8 Q285.6,637.1 285.8,639.5 Q286.0,641.8 285.5,644.2 Q285.0,646.5 284.1,648.4 Q283.2,650.3 282.2,651.5 Q281.3,652.6 280.5,653.5 Q279.7,654.3 279.2,654.6 Q278.8,655.0 278.0,655.0 Q277.2,655.0 276.8,654.6 Q276.3,654.3 275.5,653.5 Q274.7,652.6 273.8,651.5 Q272.8,650.3 271.9,648.4 Q271.0,646.5 270.5,644.2 Q270.0,641.8 270.2,639.5 Q270.4,637.1 270.7,634.8 Q270.9,632.4 271.2,629.6 Q271.4,626.8 271.7,624.5 Q272.1,622.1 272.5,620.2 Q272.9,618.3 273.0,616.5 Q273.2,614.6 273.7,613.2 Q274.2,611.8 274.9,610.6 Q275.5,609.4 276.3,608.7 Q277.0,608.0 278.0,608.0Z" fill="#0a22ff"/>
<ellipse cx="271.0" cy="629.1" rx="1.8" ry="11.8" fill="#e9b7e6" opacity="1"/>
<ellipse cx="278.0" cy="615.0" rx="3.3" ry="3.3" fill="#14d0ff" opacity="0.8"/>
<ellipse cx="282.9" cy="622.1" rx="1.7" ry="4.7" fill="#7a3cff" opacity="1"/>
<ellipse cx="278.0" cy="648.0" rx="2.5" ry="3.8" fill="#14d0ff" opacity="0.5"/>
</g></g>
</g>
<g opacity="0.92">
<path d="M335.5,654.0 Q335.5,660.0 335.5,663.0" stroke="#b0b0b0" stroke-width="1.8" fill="none" stroke-linecap="round"/>
</g>
<g filter="url(#fur)">
<path d="M335.5,611.0 Q336.5,611.0 337.3,611.7 Q338.1,612.4 338.7,613.5 Q339.4,614.7 339.9,616.1 Q340.4,617.4 340.6,619.3 Q340.8,621.1 341.2,623.0 Q341.6,624.8 342.0,627.1 Q342.3,629.4 342.6,632.2 Q342.8,634.9 343.1,637.2 Q343.3,639.5 343.5,641.8 Q343.7,644.1 343.0,646.4 Q342.3,648.7 341.2,650.6 Q340.1,652.4 339.1,653.5 Q338.0,654.7 337.3,655.5 Q336.5,656.3 336.2,656.7 Q335.9,657.0 335.5,657.0 Q335.1,657.0 334.8,656.7 Q334.5,656.3 333.7,655.5 Q333.0,654.7 331.9,653.5 Q330.9,652.4 329.8,650.6 Q328.7,648.7 328.0,646.4 Q327.3,644.1 327.5,641.8 Q327.7,639.5 327.9,637.2 Q328.2,634.9 328.4,632.2 Q328.7,629.4 329.0,627.1 Q329.4,624.8 329.8,623.0 Q330.2,621.1 330.4,619.3 Q330.6,617.4 331.1,616.1 Q331.6,614.7 332.3,613.5 Q332.9,612.4 333.7,611.7 Q334.5,611.0 335.5,611.0Z" fill="url(#mg1)" filter="url(#body)"/>
<clipPath id="mc14"><path d="M335.5,611.0 Q336.5,611.0 337.3,611.7 Q338.1,612.4 338.7,613.5 Q339.4,614.7 339.9,616.1 Q340.4,617.4 340.6,619.3 Q340.8,621.1 341.2,623.0 Q341.6,624.8 342.0,627.1 Q342.3,629.4 342.6,632.2 Q342.8,634.9 343.1,637.2 Q343.3,639.5 343.5,641.8 Q343.7,644.1 343.0,646.4 Q342.3,648.7 341.2,650.6 Q340.1,652.4 339.1,653.5 Q338.0,654.7 337.3,655.5 Q336.5,656.3 336.2,656.7 Q335.9,657.0 335.5,657.0 Q335.1,657.0 334.8,656.7 Q334.5,656.3 333.7,655.5 Q333.0,654.7 331.9,653.5 Q330.9,652.4 329.8,650.6 Q328.7,648.7 328.0,646.4 Q327.3,644.1 327.5,641.8 Q327.7,639.5 327.9,637.2 Q328.2,634.9 328.4,632.2 Q328.7,629.4 329.0,627.1 Q329.4,624.8 329.8,623.0 Q330.2,621.1 330.4,619.3 Q330.6,617.4 331.1,616.1 Q331.6,614.7 332.3,613.5 Q332.9,612.4 333.7,611.7 Q334.5,611.0 335.5,611.0Z" transform="translate(335.5,634.0) scale(1.10,1.04) translate(-335.5,-634.0)"/></clipPath>
<g clip-path="url(#mc14)"><g filter="url(#mb2)">
<path d="M335.5,611.0 Q336.5,611.0 337.3,611.7 Q338.1,612.4 338.7,613.5 Q339.4,614.7 339.9,616.1 Q340.4,617.4 340.6,619.3 Q340.8,621.1 341.2,623.0 Q341.6,624.8 342.0,627.1 Q342.3,629.4 342.6,632.2 Q342.8,634.9 343.1,637.2 Q343.3,639.5 343.5,641.8 Q343.7,644.1 343.0,646.4 Q342.3,648.7 341.2,650.6 Q340.1,652.4 339.1,653.5 Q338.0,654.7 337.3,655.5 Q336.5,656.3 336.2,656.7 Q335.9,657.0 335.5,657.0 Q335.1,657.0 334.8,656.7 Q334.5,656.3 333.7,655.5 Q333.0,654.7 331.9,653.5 Q330.9,652.4 329.8,650.6 Q328.7,648.7 328.0,646.4 Q327.3,644.1 327.5,641.8 Q327.7,639.5 327.9,637.2 Q328.2,634.9 328.4,632.2 Q328.7,629.4 329.0,627.1 Q329.4,624.8 329.8,623.0 Q330.2,621.1 330.4,619.3 Q330.6,617.4 331.1,616.1 Q331.6,614.7 332.3,613.5 Q332.9,612.4 333.7,611.7 Q334.5,611.0 335.5,611.0Z" fill="#0a22ff"/>
<ellipse cx="335.9" cy="615.6" rx="3.1" ry="3.2" fill="#14d0ff" opacity="0.8"/>
<ellipse cx="330.4" cy="623.9" rx="2.1" ry="2.3" fill="#7a3cff" opacity="0.7"/>
<ellipse cx="340.6" cy="624.8" rx="2.1" ry="2.3" fill="#7a3cff" opacity="0.7"/>
<ellipse cx="334.6" cy="636.3" rx="3.4" ry="7.4" fill="#1a8cff" opacity="0.9"/>
<ellipse cx="335.5" cy="648.7" rx="3.0" ry="4.6" fill="#1a8cff" opacity="0.9"/>
<ellipse cx="336.4" cy="627.6" rx="2.5" ry="2.8" fill="#1a8cff" opacity="0.8"/>
</g></g>
</g>
<g opacity="0.92">
<path d="M393.0,657.0 Q393.0,661.0 393.0,662.0" stroke="#cfcfcf" stroke-width="1.8" fill="none" stroke-linecap="round"/>
</g>
<g filter="url(#fur)">
<path d="M388.0,657.0 L382.0,660.0" stroke="#dcdcdc" stroke-width="1.8" fill="none" stroke-linecap="round"/>
<path d="M398.0,657.0 L404.0,659.0" stroke="#dcdcdc" stroke-width="1.8" fill="none" stroke-linecap="round"/>
<path d="M393.0,615.0 Q394.1,615.0 394.9,615.7 Q395.8,616.4 396.5,617.5 Q397.3,618.6 397.8,620.0 Q398.4,621.3 398.6,623.1 Q398.7,624.9 399.2,626.7 Q399.7,628.5 400.0,630.8 Q400.4,633.0 400.7,635.7 Q401.0,638.4 401.2,640.6 Q401.5,642.9 401.8,645.1 Q402.1,647.4 402.2,649.6 Q402.2,651.9 402.1,653.7 Q402.0,655.5 401.3,656.6 Q400.6,657.8 399.3,658.5 Q398.1,659.3 396.9,659.7 Q395.8,660.0 393.0,660.0 Q390.2,660.0 389.1,659.7 Q387.9,659.3 386.7,658.5 Q385.4,657.8 384.7,656.6 Q384.0,655.5 383.9,653.7 Q383.8,651.9 383.8,649.6 Q383.9,647.4 384.2,645.1 Q384.5,642.9 384.8,640.6 Q385.0,638.4 385.3,635.7 Q385.6,633.0 386.0,630.8 Q386.3,628.5 386.8,626.7 Q387.3,624.9 387.4,623.1 Q387.6,621.3 388.2,620.0 Q388.7,618.6 389.5,617.5 Q390.2,616.4 391.1,615.7 Q391.9,615.0 393.0,615.0Z" fill="url(#mg0)" filter="url(#body)"/>
<clipPath id="mc15"><path d="M393.0,615.0 Q394.1,615.0 394.9,615.7 Q395.8,616.4 396.5,617.5 Q397.3,618.6 397.8,620.0 Q398.4,621.3 398.6,623.1 Q398.7,624.9 399.2,626.7 Q399.7,628.5 400.0,630.8 Q400.4,633.0 400.7,635.7 Q401.0,638.4 401.2,640.6 Q401.5,642.9 401.8,645.1 Q402.1,647.4 402.2,649.6 Q402.2,651.9 402.1,653.7 Q402.0,655.5 401.3,656.6 Q400.6,657.8 399.3,658.5 Q398.1,659.3 396.9,659.7 Q395.8,660.0 393.0,660.0 Q390.2,660.0 389.1,659.7 Q387.9,659.3 386.7,658.5 Q385.4,657.8 384.7,656.6 Q384.0,655.5 383.9,653.7 Q383.8,651.9 383.8,649.6 Q383.9,647.4 384.2,645.1 Q384.5,642.9 384.8,640.6 Q385.0,638.4 385.3,635.7 Q385.6,633.0 386.0,630.8 Q386.3,628.5 386.8,626.7 Q387.3,624.9 387.4,623.1 Q387.6,621.3 388.2,620.0 Q388.7,618.6 389.5,617.5 Q390.2,616.4 391.1,615.7 Q391.9,615.0 393.0,615.0Z" transform="translate(393.0,637.5) scale(1.10,1.04) translate(-393.0,-637.5)"/></clipPath>
<g clip-path="url(#mc15)"><g filter="url(#mb2)">
<ellipse cx="393.0" cy="619.5" rx="5.5" ry="4.5" fill="#0a22ff" opacity="1"/>
<ellipse cx="388.4" cy="626.2" rx="2.8" ry="4.5" fill="#7a3cff" opacity="1"/>
<ellipse cx="397.6" cy="626.2" rx="2.8" ry="2.7" fill="#0a22ff" opacity="1"/>
<ellipse cx="393.0" cy="653.2" rx="9.2" ry="7.7" fill="#0a22ff" opacity="1"/>
<ellipse cx="393.0" cy="642.0" rx="2.3" ry="6.8" fill="#0a22ff" opacity="1"/>
</g></g>
</g>
<g opacity="0.92">
<path d="M451.5,649.0 Q451.5,657.5 451.5,663.0" stroke="#b0b0b0" stroke-width="1.8" fill="none" stroke-linecap="round"/>
</g>
<g filter="url(#fur)">
<path d="M447.5,650.0 L443.5,652.0" stroke="#b4b4b4" stroke-width="1.8" fill="none" stroke-linecap="round"/>
<path d="M455.5,650.0 L459.5,653.0" stroke="#b4b4b4" stroke-width="1.8" fill="none" stroke-linecap="round"/>
<path d="M451.5,612.5 Q452.4,612.5 453.1,613.1 Q453.8,613.7 454.4,614.7 Q455.1,615.7 455.5,616.8 Q456.0,618.0 456.1,619.6 Q456.3,621.2 456.7,622.8 Q457.1,624.4 457.4,626.3 Q457.7,628.3 457.9,630.7 Q458.2,633.0 458.4,635.0 Q458.6,637.0 458.9,639.0 Q459.1,640.9 459.2,642.9 Q459.2,644.9 459.1,646.5 Q459.0,648.0 458.4,649.0 Q457.9,650.0 456.8,650.7 Q455.8,651.4 454.8,651.7 Q453.8,652.0 451.5,652.0 Q449.2,652.0 448.2,651.7 Q447.2,651.4 446.2,650.7 Q445.1,650.0 444.6,649.0 Q444.0,648.0 443.9,646.5 Q443.8,644.9 443.8,642.9 Q443.9,640.9 444.1,639.0 Q444.4,637.0 444.6,635.0 Q444.8,633.0 445.1,630.7 Q445.3,628.3 445.6,626.3 Q445.9,624.4 446.3,622.8 Q446.7,621.2 446.9,619.6 Q447.0,618.0 447.5,616.8 Q447.9,615.7 448.6,614.7 Q449.2,613.7 449.9,613.1 Q450.6,612.5 451.5,612.5Z" fill="url(#mg1)" filter="url(#body)"/>
</g>
<g opacity="0.92">
<path d="M62.5,734.0 Q62.5,737.0 62.5,737.0" stroke="#b0b0b0" stroke-width="1.8" fill="none" stroke-linecap="round"/>
</g>
<g filter="url(#fur)">
<path d="M57.5,730.0 L51.5,732.0" stroke="#b4b4b4" stroke-width="1.8" fill="none" stroke-linecap="round"/>
<path d="M67.5,731.0 L72.5,734.0" stroke="#b4b4b4" stroke-width="1.8" fill="none" stroke-linecap="round"/>
<path d="M62.5,680.5 Q63.6,680.5 64.5,681.3 Q65.3,682.2 66.1,683.6 Q66.9,685.0 67.4,686.7 Q68.0,688.4 68.2,690.7 Q68.4,692.9 68.9,695.2 Q69.3,697.5 69.7,700.3 Q70.1,703.1 70.4,706.5 Q70.7,709.9 71.0,712.7 Q71.2,715.5 71.5,718.4 Q71.8,721.2 71.9,724.0 Q72.0,726.8 71.9,729.1 Q71.7,731.4 71.0,732.8 Q70.3,734.2 69.0,735.2 Q67.7,736.2 66.5,736.6 Q65.3,737.0 62.5,737.0 Q59.6,737.0 58.5,736.6 Q57.3,736.2 56.0,735.2 Q54.7,734.2 54.0,732.8 Q53.3,731.4 53.1,729.1 Q53.0,726.8 53.1,724.0 Q53.2,721.2 53.5,718.4 Q53.8,715.5 54.0,712.7 Q54.3,709.9 54.6,706.5 Q54.9,703.1 55.3,700.3 Q55.7,697.5 56.1,695.2 Q56.6,692.9 56.8,690.7 Q57.0,688.4 57.6,686.7 Q58.1,685.0 58.9,683.6 Q59.6,682.2 60.5,681.3 Q61.4,680.5 62.5,680.5Z" fill="url(#mg1)" filter="url(#body)"/>
<clipPath id="mc17"><path d="M62.5,680.5 Q63.6,680.5 64.5,681.3 Q65.3,682.2 66.1,683.6 Q66.9,685.0 67.4,686.7 Q68.0,688.4 68.2,690.7 Q68.4,692.9 68.9,695.2 Q69.3,697.5 69.7,700.3 Q70.1,703.1 70.4,706.5 Q70.7,709.9 71.0,712.7 Q71.2,715.5 71.5,718.4 Q71.8,721.2 71.9,724.0 Q72.0,726.8 71.9,729.1 Q71.7,731.4 71.0,732.8 Q70.3,734.2 69.0,735.2 Q67.7,736.2 66.5,736.6 Q65.3,737.0 62.5,737.0 Q59.6,737.0 58.5,736.6 Q57.3,736.2 56.0,735.2 Q54.7,734.2 54.0,732.8 Q53.3,731.4 53.1,729.1 Q53.0,726.8 53.1,724.0 Q53.2,721.2 53.5,718.4 Q53.8,715.5 54.0,712.7 Q54.3,709.9 54.6,706.5 Q54.9,703.1 55.3,700.3 Q55.7,697.5 56.1,695.2 Q56.6,692.9 56.8,690.7 Q57.0,688.4 57.6,686.7 Q58.1,685.0 58.9,683.6 Q59.6,682.2 60.5,681.3 Q61.4,680.5 62.5,680.5Z" transform="translate(62.5,708.8) scale(1.10,1.04) translate(-62.5,-708.8)"/></clipPath>
<g clip-path="url(#mc17)"><g filter="url(#mb2)">
<path d="M62.5,680.5 Q63.6,680.5 64.5,681.3 Q65.3,682.2 66.1,683.6 Q66.9,685.0 67.4,686.7 Q68.0,688.4 68.2,690.7 Q68.4,692.9 68.9,695.2 Q69.3,697.5 69.7,700.3 Q70.1,703.1 70.4,706.5 Q70.7,709.9 71.0,712.7 Q71.2,715.5 71.5,718.4 Q71.8,721.2 71.9,724.0 Q72.0,726.8 71.9,729.1 Q71.7,731.4 71.0,732.8 Q70.3,734.2 69.0,735.2 Q67.7,736.2 66.5,736.6 Q65.3,737.0 62.5,737.0 Q59.6,737.0 58.5,736.6 Q57.3,736.2 56.0,735.2 Q54.7,734.2 54.0,732.8 Q53.3,731.4 53.1,729.1 Q53.0,726.8 53.1,724.0 Q53.2,721.2 53.5,718.4 Q53.8,715.5 54.0,712.7 Q54.3,709.9 54.6,706.5 Q54.9,703.1 55.3,700.3 Q55.7,697.5 56.1,695.2 Q56.6,692.9 56.8,690.7 Q57.0,688.4 57.6,686.7 Q58.1,685.0 58.9,683.6 Q59.6,682.2 60.5,681.3 Q61.4,680.5 62.5,680.5Z" fill="#14d0ff"/>
<ellipse cx="62.5" cy="708.8" rx="6.6" ry="23.7" fill="#28f47a" opacity="1"/>
<ellipse cx="63.0" cy="687.3" rx="5.7" ry="5.7" fill="#28f47a" opacity="1"/>
<ellipse cx="55.9" cy="700.3" rx="2.9" ry="5.7" fill="#0a22ff" opacity="1"/>
<ellipse cx="69.2" cy="697.5" rx="2.9" ry="5.7" fill="#0a22ff" opacity="1"/>
<ellipse cx="54.9" cy="725.7" rx="2.9" ry="5.7" fill="#0a22ff" opacity="1"/>
<ellipse cx="70.1" cy="725.7" rx="2.9" ry="5.7" fill="#0a22ff" opacity="1"/>
</g></g>
</g>
<g opacity="0.92">
<path d="M112.5,727.0 Q112.5,733.5 112.5,737.0" stroke="#b0b0b0" stroke-width="1.8" fill="none" stroke-linecap="round"/>
<line x1="112.5" y1="729" x2="112.5" y2="737" stroke="#1428ff" stroke-width="2.2" stroke-linecap="round"/>
</g>
<g filter="url(#fur)">
<path d="M107.5,726.0 L102.5,724.0" stroke="#b4b4b4" stroke-width="1.8" fill="none" stroke-linecap="round"/>
<path d="M113.1,677.0 Q114.2,677.0 115.1,677.8 Q115.9,678.6 116.6,679.9 Q117.4,681.2 117.9,682.8 Q118.5,684.4 118.6,686.5 Q118.8,688.7 119.3,690.8 Q119.7,692.9 120.0,695.5 Q120.4,698.2 120.6,701.4 Q120.9,704.6 121.1,707.2 Q121.4,709.9 121.6,712.5 Q121.9,715.2 121.4,717.8 Q120.9,720.5 120.1,722.6 Q119.3,724.7 118.3,726.0 Q117.3,727.4 116.3,728.3 Q115.3,729.2 114.6,729.6 Q113.9,730.0 112.5,730.0 Q111.1,730.0 110.4,729.6 Q109.7,729.2 108.7,728.3 Q107.7,727.4 106.7,726.0 Q105.8,724.7 105.0,722.6 Q104.2,720.5 103.8,717.8 Q103.4,715.2 103.6,712.5 Q103.9,709.9 104.2,707.2 Q104.5,704.6 104.9,701.4 Q105.2,698.2 105.6,695.5 Q106.0,692.9 106.5,690.8 Q107.0,688.7 107.2,686.5 Q107.5,684.4 108.0,682.8 Q108.6,681.2 109.4,679.9 Q110.2,678.6 111.1,677.8 Q111.9,677.0 113.1,677.0Z" fill="url(#mg1)" filter="url(#body)"/>
<clipPath id="mc18"><path d="M113.1,677.0 Q114.2,677.0 115.1,677.8 Q115.9,678.6 116.6,679.9 Q117.4,681.2 117.9,682.8 Q118.5,684.4 118.6,686.5 Q118.8,688.7 119.3,690.8 Q119.7,692.9 120.0,695.5 Q120.4,698.2 120.6,701.4 Q120.9,704.6 121.1,707.2 Q121.4,709.9 121.6,712.5 Q121.9,715.2 121.4,717.8 Q120.9,720.5 120.1,722.6 Q119.3,724.7 118.3,726.0 Q117.3,727.4 116.3,728.3 Q115.3,729.2 114.6,729.6 Q113.9,730.0 112.5,730.0 Q111.1,730.0 110.4,729.6 Q109.7,729.2 108.7,728.3 Q107.7,727.4 106.7,726.0 Q105.8,724.7 105.0,722.6 Q104.2,720.5 103.8,717.8 Q103.4,715.2 103.6,712.5 Q103.9,709.9 104.2,707.2 Q104.5,704.6 104.9,701.4 Q105.2,698.2 105.6,695.5 Q106.0,692.9 106.5,690.8 Q107.0,688.7 107.2,686.5 Q107.5,684.4 108.0,682.8 Q108.6,681.2 109.4,679.9 Q110.2,678.6 111.1,677.8 Q111.9,677.0 113.1,677.0Z" transform="translate(112.5,703.5) scale(1.10,1.04) translate(-112.5,-703.5)"/></clipPath>
<g clip-path="url(#mc18)"><g filter="url(#mb2)">
<path d="M113.1,677.0 Q114.2,677.0 115.1,677.8 Q115.9,678.6 116.6,679.9 Q117.4,681.2 117.9,682.8 Q118.5,684.4 118.6,686.5 Q118.8,688.7 119.3,690.8 Q119.7,692.9 120.0,695.5 Q120.4,698.2 120.6,701.4 Q120.9,704.6 121.1,707.2 Q121.4,709.9 121.6,712.5 Q121.9,715.2 121.4,717.8 Q120.9,720.5 120.1,722.6 Q119.3,724.7 118.3,726.0 Q117.3,727.4 116.3,728.3 Q115.3,729.2 114.6,729.6 Q113.9,730.0 112.5,730.0 Q111.1,730.0 110.4,729.6 Q109.7,729.2 108.7,728.3 Q107.7,727.4 106.7,726.0 Q105.8,724.7 105.0,722.6 Q104.2,720.5 103.8,717.8 Q103.4,715.2 103.6,712.5 Q103.9,709.9 104.2,707.2 Q104.5,704.6 104.9,701.4 Q105.2,698.2 105.6,695.5 Q106.0,692.9 106.5,690.8 Q107.0,688.7 107.2,686.5 Q107.5,684.4 108.0,682.8 Q108.6,681.2 109.4,679.9 Q110.2,678.6 111.1,677.8 Q111.9,677.0 113.1,677.0Z" fill="#0a22ff"/>
<ellipse cx="112.7" cy="706.1" rx="6.6" ry="21.2" fill="#14d0ff" opacity="1"/>
<ellipse cx="113.0" cy="683.4" rx="4.8" ry="5.3" fill="#14d0ff" opacity="1"/>
<ellipse cx="113.0" cy="682.3" rx="3.3" ry="3.7" fill="#28f47a" opacity="1"/>
<ellipse cx="113.1" cy="708.8" rx="3.8" ry="13.2" fill="#28f47a" opacity="1"/>
</g></g>
</g>
<g opacity="0.92">
<path d="M172.5,728.0 Q172.5,734.0 172.5,737.0" stroke="#b0b0b0" stroke-width="1.8" fill="none" stroke-linecap="round"/>
</g>
<g filter="url(#fur)">
<path d="M167.5,728.0 L161.5,731.0" stroke="#b4b4b4" stroke-width="1.8" fill="none" stroke-linecap="round"/>
<path d="M177.5,728.0 L183.5,731.0" stroke="#b4b4b4" stroke-width="1.8" fill="none" stroke-linecap="round"/>
<path d="M172.5,684.0 Q173.6,684.0 174.5,684.7 Q175.3,685.4 176.1,686.6 Q176.9,687.8 177.4,689.2 Q178.0,690.6 178.2,692.5 Q178.4,694.3 178.9,696.2 Q179.3,698.1 179.7,700.5 Q180.1,702.8 180.4,705.6 Q180.7,708.4 181.0,710.8 Q181.2,713.1 181.5,715.5 Q181.8,717.8 181.9,720.2 Q182.0,722.5 181.9,724.4 Q181.7,726.3 181.0,727.5 Q180.3,728.6 179.0,729.5 Q177.7,730.3 176.5,730.6 Q175.3,731.0 172.5,731.0 Q169.7,731.0 168.5,730.6 Q167.3,730.3 166.0,729.5 Q164.7,728.6 164.0,727.5 Q163.3,726.3 163.1,724.4 Q163.0,722.5 163.1,720.2 Q163.2,717.8 163.5,715.5 Q163.8,713.1 164.0,710.8 Q164.3,708.4 164.6,705.6 Q164.9,702.8 165.3,700.5 Q165.7,698.1 166.1,696.2 Q166.6,694.3 166.8,692.5 Q167.0,690.6 167.6,689.2 Q168.1,687.8 168.9,686.6 Q169.7,685.4 170.5,684.7 Q171.4,684.0 172.5,684.0Z" fill="url(#mg1)" filter="url(#body)"/>
<clipPath id="mc19"><path d="M172.5,684.0 Q173.6,684.0 174.5,684.7 Q175.3,685.4 176.1,686.6 Q176.9,687.8 177.4,689.2 Q178.0,690.6 178.2,692.5 Q178.4,694.3 178.9,696.2 Q179.3,698.1 179.7,700.5 Q180.1,702.8 180.4,705.6 Q180.7,708.4 181.0,710.8 Q181.2,713.1 181.5,715.5 Q181.8,717.8 181.9,720.2 Q182.0,722.5 181.9,724.4 Q181.7,726.3 181.0,727.5 Q180.3,728.6 179.0,729.5 Q177.7,730.3 176.5,730.6 Q175.3,731.0 172.5,731.0 Q169.7,731.0 168.5,730.6 Q167.3,730.3 166.0,729.5 Q164.7,728.6 164.0,727.5 Q163.3,726.3 163.1,724.4 Q163.0,722.5 163.1,720.2 Q163.2,717.8 163.5,715.5 Q163.8,713.1 164.0,710.8 Q164.3,708.4 164.6,705.6 Q164.9,702.8 165.3,700.5 Q165.7,698.1 166.1,696.2 Q166.6,694.3 166.8,692.5 Q167.0,690.6 167.6,689.2 Q168.1,687.8 168.9,686.6 Q169.7,685.4 170.5,684.7 Q171.4,684.0 172.5,684.0Z" transform="translate(172.5,707.5) scale(1.10,1.04) translate(-172.5,-707.5)"/></clipPath>
<g clip-path="url(#mc19)"><g filter="url(#mb2)">
<path d="M172.5,684.0 Q173.6,684.0 174.5,684.7 Q175.3,685.4 176.1,686.6 Q176.9,687.8 177.4,689.2 Q178.0,690.6 178.2,692.5 Q178.4,694.3 178.9,696.2 Q179.3,698.1 179.7,700.5 Q180.1,702.8 180.4,705.6 Q180.7,708.4 181.0,710.8 Q181.2,713.1 181.5,715.5 Q181.8,717.8 181.9,720.2 Q182.0,722.5 181.9,724.4 Q181.7,726.3 181.0,727.5 Q180.3,728.6 179.0,729.5 Q177.7,730.3 176.5,730.6 Q175.3,731.0 172.5,731.0 Q169.7,731.0 168.5,730.6 Q167.3,730.3 166.0,729.5 Q164.7,728.6 164.0,727.5 Q163.3,726.3 163.1,724.4 Q163.0,722.5 163.1,720.2 Q163.2,717.8 163.5,715.5 Q163.8,713.1 164.0,710.8 Q164.3,708.4 164.6,705.6 Q164.9,702.8 165.3,700.5 Q165.7,698.1 166.1,696.2 Q166.6,694.3 166.8,692.5 Q167.0,690.6 167.6,689.2 Q168.1,687.8 168.9,686.6 Q169.7,685.4 170.5,684.7 Q171.4,684.0 172.5,684.0Z" fill="#14d0ff"/>
<ellipse cx="172.5" cy="709.9" rx="6.2" ry="17.9" fill="#28f47a" opacity="1"/>
<ellipse cx="172.5" cy="688.7" rx="5.2" ry="4.7" fill="#28f47a" opacity="1"/>
<ellipse cx="165.8" cy="698.1" rx="2.9" ry="5.6" fill="#0a22ff" opacity="1"/>
<ellipse cx="179.2" cy="698.1" rx="2.9" ry="5.6" fill="#0a22ff" opacity="1"/>
<ellipse cx="172.5" cy="728.6" rx="8.6" ry="2.8" fill="#0a22ff" opacity="1"/>
</g></g>
</g>
<g opacity="0.92">
<path d="M219.5,719.5 Q219.5,729.2 219.5,736.0" stroke="#b0b0b0" stroke-width="1.8" fill="none" stroke-linecap="round"/>
<line x1="219.5" y1="722" x2="219.5" y2="730" stroke="#1428ff" stroke-width="2.2" stroke-linecap="round"/>
</g>
<g filter="url(#fur)">
<path d="M215.5,720.5 L209.5,723.5" stroke="#b4b4b4" stroke-width="1.8" fill="none" stroke-linecap="round"/>
<path d="M223.5,720.5 L229.5,724.5" stroke="#b4b4b4" stroke-width="1.8" fill="none" stroke-linecap="round"/>
<path d="M219.5,677.0 Q220.5,677.0 221.2,677.7 Q221.9,678.4 222.5,679.5 Q223.2,680.6 223.7,682.0 Q224.1,683.4 224.3,685.2 Q224.5,687.0 224.9,688.8 Q225.3,690.6 225.6,692.9 Q225.9,695.2 226.1,697.9 Q226.4,700.7 226.6,702.9 Q226.9,705.2 227.1,707.5 Q227.3,709.8 227.4,712.0 Q227.5,714.3 227.4,716.1 Q227.3,718.0 226.7,719.1 Q226.1,720.2 225.0,721.0 Q223.9,721.8 222.9,722.2 Q221.9,722.5 219.5,722.5 Q217.1,722.5 216.1,722.2 Q215.1,721.8 214.0,721.0 Q212.9,720.2 212.3,719.1 Q211.7,718.0 211.6,716.1 Q211.5,714.3 211.6,712.0 Q211.7,709.8 211.9,707.5 Q212.1,705.2 212.4,702.9 Q212.6,700.7 212.9,697.9 Q213.1,695.2 213.4,692.9 Q213.7,690.6 214.1,688.8 Q214.5,687.0 214.7,685.2 Q214.9,683.4 215.3,682.0 Q215.8,680.6 216.5,679.5 Q217.1,678.4 217.8,677.7 Q218.5,677.0 219.5,677.0Z" fill="url(#mg1)" filter="url(#body)"/>
<clipPath id="mc20"><path d="M219.5,677.0 Q220.5,677.0 221.2,677.7 Q221.9,678.4 222.5,679.5 Q223.2,680.6 223.7,682.0 Q224.1,683.4 224.3,685.2 Q224.5,687.0 224.9,688.8 Q225.3,690.6 225.6,692.9 Q225.9,695.2 226.1,697.9 Q226.4,700.7 226.6,702.9 Q226.9,705.2 227.1,707.5 Q227.3,709.8 227.4,712.0 Q227.5,714.3 227.4,716.1 Q227.3,718.0 226.7,719.1 Q226.1,720.2 225.0,721.0 Q223.9,721.8 222.9,722.2 Q221.9,722.5 219.5,722.5 Q217.1,722.5 216.1,722.2 Q215.1,721.8 214.0,721.0 Q212.9,720.2 212.3,719.1 Q211.7,718.0 211.6,716.1 Q211.5,714.3 211.6,712.0 Q211.7,709.8 211.9,707.5 Q212.1,705.2 212.4,702.9 Q212.6,700.7 212.9,697.9 Q213.1,695.2 213.4,692.9 Q213.7,690.6 214.1,688.8 Q214.5,687.0 214.7,685.2 Q214.9,683.4 215.3,682.0 Q215.8,680.6 216.5,679.5 Q217.1,678.4 217.8,677.7 Q218.5,677.0 219.5,677.0Z" transform="translate(219.5,699.8) scale(1.10,1.04) translate(-219.5,-699.8)"/></clipPath>
<g clip-path="url(#mc20)"><g filter="url(#mb2)">
<path d="M219.5,677.0 Q220.5,677.0 221.2,677.7 Q221.9,678.4 222.5,679.5 Q223.2,680.6 223.7,682.0 Q224.1,683.4 224.3,685.2 Q224.5,687.0 224.9,688.8 Q225.3,690.6 225.6,692.9 Q225.9,695.2 226.1,697.9 Q226.4,700.7 226.6,702.9 Q226.9,705.2 227.1,707.5 Q227.3,709.8 227.4,712.0 Q227.5,714.3 227.4,716.1 Q227.3,718.0 226.7,719.1 Q226.1,720.2 225.0,721.0 Q223.9,721.8 222.9,722.2 Q221.9,722.5 219.5,722.5 Q217.1,722.5 216.1,722.2 Q215.1,721.8 214.0,721.0 Q212.9,720.2 212.3,719.1 Q211.7,718.0 211.6,716.1 Q211.5,714.3 211.6,712.0 Q211.7,709.8 211.9,707.5 Q212.1,705.2 212.4,702.9 Q212.6,700.7 212.9,697.9 Q213.1,695.2 213.4,692.9 Q213.7,690.6 214.1,688.8 Q214.5,687.0 214.7,685.2 Q214.9,683.4 215.3,682.0 Q215.8,680.6 216.5,679.5 Q217.1,678.4 217.8,677.7 Q218.5,677.0 219.5,677.0Z" fill="#0a22ff"/>
<ellipse cx="219.5" cy="704.3" rx="5.6" ry="15.9" fill="#14d0ff" opacity="1"/>
<ellipse cx="219.5" cy="682.5" rx="4.4" ry="4.5" fill="#14d0ff" opacity="1"/>
<ellipse cx="219.5" cy="682.5" rx="3.2" ry="3.6" fill="#28f47a" opacity="1"/>
<ellipse cx="219.5" cy="704.3" rx="2.8" ry="9.1" fill="#28f47a" opacity="0.7"/>
</g></g>
</g>
<g opacity="0.92">
<path d="M281.0,732.0 Q281.0,736.0 281.0,737.0" stroke="#b0b0b0" stroke-width="1.8" fill="none" stroke-linecap="round"/>
</g>
<g filter="url(#fur)">
<path d="M281.4,682.0 Q282.5,682.0 283.4,682.8 Q284.2,683.6 285.0,684.9 Q285.7,686.2 286.3,687.8 Q286.8,689.4 287.0,691.5 Q287.2,693.7 287.6,695.8 Q288.1,697.9 288.4,700.5 Q288.8,703.2 289.1,706.4 Q289.3,709.6 289.6,712.2 Q289.8,714.9 290.1,717.5 Q290.3,720.2 289.6,722.8 Q288.9,725.5 287.7,727.6 Q286.5,729.7 285.4,731.0 Q284.3,732.4 283.4,733.3 Q282.5,734.2 282.1,734.6 Q281.7,735.0 281.0,735.0 Q280.3,735.0 279.9,734.6 Q279.5,734.2 278.6,733.3 Q277.7,732.4 276.6,731.0 Q275.5,729.7 274.4,727.6 Q273.2,725.5 272.5,722.8 Q271.9,720.2 272.1,717.5 Q272.4,714.9 272.7,712.2 Q273.0,709.6 273.3,706.4 Q273.6,703.2 274.0,700.5 Q274.4,697.9 274.9,695.8 Q275.4,693.7 275.6,691.5 Q275.8,689.4 276.4,687.8 Q277.0,686.2 277.7,684.9 Q278.5,683.6 279.4,682.8 Q280.2,682.0 281.4,682.0Z" fill="url(#mg1)" filter="url(#body)"/>
<clipPath id="mc21"><path d="M281.4,682.0 Q282.5,682.0 283.4,682.8 Q284.2,683.6 285.0,684.9 Q285.7,686.2 286.3,687.8 Q286.8,689.4 287.0,691.5 Q287.2,693.7 287.6,695.8 Q288.1,697.9 288.4,700.5 Q288.8,703.2 289.1,706.4 Q289.3,709.6 289.6,712.2 Q289.8,714.9 290.1,717.5 Q290.3,720.2 289.6,722.8 Q288.9,725.5 287.7,727.6 Q286.5,729.7 285.4,731.0 Q284.3,732.4 283.4,733.3 Q282.5,734.2 282.1,734.6 Q281.7,735.0 281.0,735.0 Q280.3,735.0 279.9,734.6 Q279.5,734.2 278.6,733.3 Q277.7,732.4 276.6,731.0 Q275.5,729.7 274.4,727.6 Q273.2,725.5 272.5,722.8 Q271.9,720.2 272.1,717.5 Q272.4,714.9 272.7,712.2 Q273.0,709.6 273.3,706.4 Q273.6,703.2 274.0,700.5 Q274.4,697.9 274.9,695.8 Q275.4,693.7 275.6,691.5 Q275.8,689.4 276.4,687.8 Q277.0,686.2 277.7,684.9 Q278.5,683.6 279.4,682.8 Q280.2,682.0 281.4,682.0Z" transform="translate(281.0,708.5) scale(1.10,1.04) translate(-281.0,-708.5)"/></clipPath>
<g clip-path="url(#mc21)"><g filter="url(#mb2)">
<path d="M281.4,682.0 Q282.5,682.0 283.4,682.8 Q284.2,683.6 285.0,684.9 Q285.7,686.2 286.3,687.8 Q286.8,689.4 287.0,691.5 Q287.2,693.7 287.6,695.8 Q288.1,697.9 288.4,700.5 Q288.8,703.2 289.1,706.4 Q289.3,709.6 289.6,712.2 Q289.8,714.9 290.1,717.5 Q290.3,720.2 289.6,722.8 Q288.9,725.5 287.7,727.6 Q286.5,729.7 285.4,731.0 Q284.3,732.4 283.4,733.3 Q282.5,734.2 282.1,734.6 Q281.7,735.0 281.0,735.0 Q280.3,735.0 279.9,734.6 Q279.5,734.2 278.6,733.3 Q277.7,732.4 276.6,731.0 Q275.5,729.7 274.4,727.6 Q273.2,725.5 272.5,722.8 Q271.9,720.2 272.1,717.5 Q272.4,714.9 272.7,712.2 Q273.0,709.6 273.3,706.4 Q273.6,703.2 274.0,700.5 Q274.4,697.9 274.9,695.8 Q275.4,693.7 275.6,691.5 Q275.8,689.4 276.4,687.8 Q277.0,686.2 277.7,684.9 Q278.5,683.6 279.4,682.8 Q280.2,682.0 281.4,682.0Z" fill="#0a22ff"/>
<ellipse cx="281.3" cy="690.0" rx="3.8" ry="3.7" fill="#14d0ff" opacity="1"/>
<ellipse cx="281.2" cy="705.9" rx="3.3" ry="4.2" fill="#14d0ff" opacity="1"/>
<ellipse cx="281.0" cy="724.4" rx="3.8" ry="6.4" fill="#14d0ff" opacity="0.8"/>
<ellipse cx="275.5" cy="697.9" rx="2.4" ry="5.3" fill="#e9b7e6" opacity="1"/>
<ellipse cx="286.0" cy="700.5" rx="2.4" ry="2.7" fill="#7a3cff" opacity="1"/>
</g></g>
</g>
<g opacity="0.92">
<path d="M337.0,724.0 Q337.0,732.0 337.0,737.0" stroke="#cfcfcf" stroke-width="1.8" fill="none" stroke-linecap="round"/>
</g>
<g filter="url(#fur)">
<path d="M332.0,724.0 L327.0,722.0" stroke="#dcdcdc" stroke-width="1.8" fill="none" stroke-linecap="round"/>
<path d="M337.0,684.5 Q338.1,684.5 339.0,685.1 Q339.9,685.8 340.6,686.8 Q341.4,687.9 341.9,689.2 Q342.5,690.5 342.7,692.2 Q342.9,693.9 343.4,695.5 Q343.8,697.2 344.2,699.4 Q344.6,701.5 344.9,704.0 Q345.2,706.6 345.5,708.7 Q345.7,710.9 346.0,713.0 Q346.3,715.1 346.4,717.2 Q346.5,719.4 346.4,721.0 Q346.2,722.8 345.5,723.8 Q344.8,724.9 343.5,725.6 Q342.2,726.4 341.0,726.7 Q339.9,727.0 337.0,727.0 Q334.1,727.0 333.0,726.7 Q331.8,726.4 330.5,725.6 Q329.2,724.9 328.5,723.8 Q327.8,722.8 327.6,721.0 Q327.5,719.4 327.6,717.2 Q327.7,715.1 328.0,713.0 Q328.3,710.9 328.5,708.7 Q328.8,706.6 329.1,704.0 Q329.4,701.5 329.8,699.4 Q330.2,697.2 330.6,695.5 Q331.1,693.9 331.3,692.2 Q331.5,690.5 332.1,689.2 Q332.6,687.9 333.4,686.8 Q334.1,685.8 335.0,685.1 Q335.9,684.5 337.0,684.5Z" fill="url(#mg0)" filter="url(#body)"/>
<clipPath id="mc22"><path d="M337.0,684.5 Q338.1,684.5 339.0,685.1 Q339.9,685.8 340.6,686.8 Q341.4,687.9 341.9,689.2 Q342.5,690.5 342.7,692.2 Q342.9,693.9 343.4,695.5 Q343.8,697.2 344.2,699.4 Q344.6,701.5 344.9,704.0 Q345.2,706.6 345.5,708.7 Q345.7,710.9 346.0,713.0 Q346.3,715.1 346.4,717.2 Q346.5,719.4 346.4,721.0 Q346.2,722.8 345.5,723.8 Q344.8,724.9 343.5,725.6 Q342.2,726.4 341.0,726.7 Q339.9,727.0 337.0,727.0 Q334.1,727.0 333.0,726.7 Q331.8,726.4 330.5,725.6 Q329.2,724.9 328.5,723.8 Q327.8,722.8 327.6,721.0 Q327.5,719.4 327.6,717.2 Q327.7,715.1 328.0,713.0 Q328.3,710.9 328.5,708.7 Q328.8,706.6 329.1,704.0 Q329.4,701.5 329.8,699.4 Q330.2,697.2 330.6,695.5 Q331.1,693.9 331.3,692.2 Q331.5,690.5 332.1,689.2 Q332.6,687.9 333.4,686.8 Q334.1,685.8 335.0,685.1 Q335.9,684.5 337.0,684.5Z" transform="translate(337.0,705.8) scale(1.10,1.04) translate(-337.0,-705.8)"/></clipPath>
<g clip-path="url(#mc22)"><g filter="url(#mb1)">
<ellipse cx="337.0" cy="702.4" rx="11.4" ry="6.4" fill="#0a22ff" opacity="1"/>
<ellipse cx="337.9" cy="690.9" rx="2.9" ry="1.3" fill="#7a3cff" opacity="0.5"/>
</g></g>
</g>
<g opacity="0.92">
<path d="M392.5,723.0 Q392.5,731.5 392.5,737.0" stroke="#b0b0b0" stroke-width="1.8" fill="none" stroke-linecap="round"/>
</g>
<g filter="url(#fur)">
<path d="M387.5,724.0 L381.5,727.0" stroke="#b4b4b4" stroke-width="1.8" fill="none" stroke-linecap="round"/>
<path d="M397.5,724.0 L402.5,729.0" stroke="#b4b4b4" stroke-width="1.8" fill="none" stroke-linecap="round"/>
<path d="M392.8,680.0 Q393.9,680.0 394.6,680.7 Q395.4,681.4 396.0,682.5 Q396.7,683.7 397.2,685.1 Q397.7,686.4 397.9,688.3 Q398.0,690.1 398.4,692.0 Q398.8,693.8 399.2,696.1 Q399.5,698.4 399.7,701.2 Q399.9,703.9 400.2,706.2 Q400.4,708.5 400.7,710.8 Q400.9,713.1 401.0,715.4 Q401.0,717.7 400.9,719.6 Q400.8,721.4 400.1,722.5 Q399.5,723.7 398.3,724.5 Q397.2,725.3 396.1,725.7 Q395.1,726.0 392.5,726.0 Q389.9,726.0 388.9,725.7 Q387.8,725.3 386.7,724.5 Q385.5,723.7 384.9,722.5 Q384.3,721.4 384.2,719.6 Q384.0,717.7 384.1,715.4 Q384.2,713.1 384.5,710.8 Q384.8,708.5 385.0,706.2 Q385.3,703.9 385.6,701.2 Q385.9,698.4 386.2,696.1 Q386.6,693.8 387.0,692.0 Q387.5,690.1 387.7,688.3 Q387.8,686.4 388.4,685.1 Q388.9,683.7 389.6,682.5 Q390.3,681.4 391.0,680.7 Q391.8,680.0 392.8,680.0Z" fill="url(#mg1)" filter="url(#body)"/>
<clipPath id="mc23"><path d="M392.8,680.0 Q393.9,680.0 394.6,680.7 Q395.4,681.4 396.0,682.5 Q396.7,683.7 397.2,685.1 Q397.7,686.4 397.9,688.3 Q398.0,690.1 398.4,692.0 Q398.8,693.8 399.2,696.1 Q399.5,698.4 399.7,701.2 Q399.9,703.9 400.2,706.2 Q400.4,708.5 400.7,710.8 Q400.9,713.1 401.0,715.4 Q401.0,717.7 400.9,719.6 Q400.8,721.4 400.1,722.5 Q399.5,723.7 398.3,724.5 Q397.2,725.3 396.1,725.7 Q395.1,726.0 392.5,726.0 Q389.9,726.0 388.9,725.7 Q387.8,725.3 386.7,724.5 Q385.5,723.7 384.9,722.5 Q384.3,721.4 384.2,719.6 Q384.0,717.7 384.1,715.4 Q384.2,713.1 384.5,710.8 Q384.8,708.5 385.0,706.2 Q385.3,703.9 385.6,701.2 Q385.9,698.4 386.2,696.1 Q386.6,693.8 387.0,692.0 Q387.5,690.1 387.7,688.3 Q387.8,686.4 388.4,685.1 Q388.9,683.7 389.6,682.5 Q390.3,681.4 391.0,680.7 Q391.8,680.0 392.8,680.0Z" transform="translate(392.5,703.0) scale(1.10,1.04) translate(-392.5,-703.0)"/></clipPath>
<g clip-path="url(#mc23)"><g filter="url(#mb2)">
<path d="M392.8,680.0 Q393.9,680.0 394.6,680.7 Q395.4,681.4 396.0,682.5 Q396.7,683.7 397.2,685.1 Q397.7,686.4 397.9,688.3 Q398.0,690.1 398.4,692.0 Q398.8,693.8 399.2,696.1 Q399.5,698.4 399.7,701.2 Q399.9,703.9 400.2,706.2 Q400.4,708.5 400.7,710.8 Q400.9,713.1 401.0,715.4 Q401.0,717.7 400.9,719.6 Q400.8,721.4 400.1,722.5 Q399.5,723.7 398.3,724.5 Q397.2,725.3 396.1,725.7 Q395.1,726.0 392.5,726.0 Q389.9,726.0 388.9,725.7 Q387.8,725.3 386.7,724.5 Q385.5,723.7 384.9,722.5 Q384.3,721.4 384.2,719.6 Q384.0,717.7 384.1,715.4 Q384.2,713.1 384.5,710.8 Q384.8,708.5 385.0,706.2 Q385.3,703.9 385.6,701.2 Q385.9,698.4 386.2,696.1 Q386.6,693.8 387.0,692.0 Q387.5,690.1 387.7,688.3 Q387.8,686.4 388.4,685.1 Q388.9,683.7 389.6,682.5 Q390.3,681.4 391.0,680.7 Q391.8,680.0 392.8,680.0Z" fill="#0a22ff"/>
<ellipse cx="395.3" cy="693.8" rx="2.1" ry="3.7" fill="#e9b7e6" opacity="1"/>
<ellipse cx="389.3" cy="700.7" rx="1.7" ry="3.7" fill="#7a3cff" opacity="1"/>
<ellipse cx="396.0" cy="705.3" rx="1.7" ry="2.8" fill="#e9b7e6" opacity="1"/>
<ellipse cx="392.5" cy="716.8" rx="5.9" ry="6.9" fill="#14d0ff" opacity="0.8"/>
<ellipse cx="392.8" cy="684.6" rx="2.5" ry="2.3" fill="#14d0ff" opacity="0.5"/>
</g></g>
</g>
<g opacity="0.92">
<path d="M455.5,724.0 Q455.5,732.0 455.5,737.0" stroke="#b0b0b0" stroke-width="1.8" fill="none" stroke-linecap="round"/>
</g>
<g filter="url(#fur)">
<path d="M451.5,725.0 L446.5,727.0" stroke="#b4b4b4" stroke-width="1.8" fill="none" stroke-linecap="round"/>
<path d="M459.5,725.0 L464.5,728.0" stroke="#b4b4b4" stroke-width="1.8" fill="none" stroke-linecap="round"/>
<path d="M455.5,687.0 Q456.5,687.0 457.2,687.6 Q457.9,688.2 458.5,689.2 Q459.2,690.2 459.7,691.4 Q460.1,692.6 460.3,694.2 Q460.5,695.8 460.9,697.4 Q461.3,699.0 461.6,701.0 Q461.9,703.0 462.1,705.4 Q462.4,707.8 462.6,709.8 Q462.9,711.8 463.1,713.8 Q463.3,715.8 463.4,717.8 Q463.5,719.8 463.4,721.4 Q463.3,723.0 462.7,724.0 Q462.1,725.0 461.0,725.7 Q459.9,726.4 458.9,726.7 Q457.9,727.0 455.5,727.0 Q453.1,727.0 452.1,726.7 Q451.1,726.4 450.0,725.7 Q448.9,725.0 448.3,724.0 Q447.7,723.0 447.6,721.4 Q447.5,719.8 447.6,717.8 Q447.7,715.8 447.9,713.8 Q448.1,711.8 448.4,709.8 Q448.6,707.8 448.9,705.4 Q449.1,703.0 449.4,701.0 Q449.7,699.0 450.1,697.4 Q450.5,695.8 450.7,694.2 Q450.9,692.6 451.3,691.4 Q451.8,690.2 452.5,689.2 Q453.1,688.2 453.8,687.6 Q454.5,687.0 455.5,687.0Z" fill="url(#mg2)" filter="url(#body)"/>
</g>
<rect x="30" y="520.2" width="445" height="7.8" fill="#fff" stroke="none" stroke-width="0" />
<rect x="30" y="595" width="445" height="3.5" fill="#fff" stroke="none" stroke-width="0" />
<rect x="30" y="665.7" width="445" height="4" fill="#fff" stroke="none" stroke-width="0" />
<rect x="30" y="737" width="445" height="8" fill="#fff" stroke="none" stroke-width="0" />
<rect x="473" y="530" width="7.8" height="207.5" fill="url(#cbar)" stroke="none" stroke-width="0" />
<text transform="translate(487,533.8) scale(1,0.925)" font-size="13.5" font-weight="normal" text-anchor="start" fill="#111" >10</text>
<text transform="translate(504.5,528.5) scale(1,0.925)" font-size="10" font-weight="normal" text-anchor="start" fill="#111" >8</text>
<text transform="translate(487,602.9) scale(1,0.925)" font-size="13.5" font-weight="normal" text-anchor="start" fill="#111" >10</text>
<text transform="translate(504.5,597.6) scale(1,0.925)" font-size="10" font-weight="normal" text-anchor="start" fill="#111" >7</text>
<text transform="translate(487,672.0) scale(1,0.925)" font-size="13.5" font-weight="normal" text-anchor="start" fill="#111" >10</text>
<text transform="translate(504.5,666.7) scale(1,0.925)" font-size="10" font-weight="normal" text-anchor="start" fill="#111" >6</text>
<text transform="translate(487,741.0999999999999) scale(1,0.925)" font-size="13.5" font-weight="normal" text-anchor="start" fill="#111" >10</text>
<text transform="translate(504.5,735.8) scale(1,0.925)" font-size="10" font-weight="normal" text-anchor="start" fill="#111" >5</text>
<text transform="translate(483.2,579.8) scale(1,1)" font-size="4.2" font-weight="normal" text-anchor="start" fill="#666" >2</text>
<text transform="translate(483.2,559.0) scale(1,1)" font-size="4.2" font-weight="normal" text-anchor="start" fill="#666" >4</text>
<text transform="translate(483.2,546.8) scale(1,1)" font-size="4.2" font-weight="normal" text-anchor="start" fill="#666" >6</text>
<text transform="translate(483.2,538.2) scale(1,1)" font-size="4.2" font-weight="normal" text-anchor="start" fill="#666" >8</text>
<text transform="translate(483.2,648.9) scale(1,1)" font-size="4.2" font-weight="normal" text-anchor="start" fill="#666" >2</text>
<text transform="translate(483.2,628.1) scale(1,1)" font-size="4.2" font-weight="normal" text-anchor="start" fill="#666" >4</text>
<text transform="translate(483.2,615.9) scale(1,1)" font-size="4.2" font-weight="normal" text-anchor="start" fill="#666" >6</text>
<text transform="translate(483.2,607.3) scale(1,1)" font-size="4.2" font-weight="normal" text-anchor="start" fill="#666" >8</text>
<text transform="translate(483.2,718.0) scale(1,1)" font-size="4.2" font-weight="normal" text-anchor="start" fill="#666" >2</text>
<text transform="translate(483.2,697.2) scale(1,1)" font-size="4.2" font-weight="normal" text-anchor="start" fill="#666" >4</text>
<text transform="translate(483.2,685.0) scale(1,1)" font-size="4.2" font-weight="normal" text-anchor="start" fill="#666" >6</text>
<text transform="translate(483.2,676.4) scale(1,1)" font-size="4.2" font-weight="normal" text-anchor="start" fill="#666" >8</text>
<line x1="480.8" y1="578.2988272996189" x2="482.6" y2="578.2988272996189" stroke="#777" stroke-width="0.6" />
<line x1="480.8" y1="566.1309212988714" x2="482.6" y2="566.1309212988714" stroke="#777" stroke-width="0.6" />
<line x1="480.8" y1="557.4976545992379" x2="482.6" y2="557.4976545992379" stroke="#777" stroke-width="0.6" />
<line x1="480.8" y1="550.8011727003811" x2="482.6" y2="550.8011727003811" stroke="#777" stroke-width="0.6" />
<line x1="480.8" y1="545.3297485984903" x2="482.6" y2="545.3297485984903" stroke="#777" stroke-width="0.6" />
<line x1="480.8" y1="540.7037254350149" x2="482.6" y2="540.7037254350149" stroke="#777" stroke-width="0.6" />
<line x1="480.8" y1="536.6964818988567" x2="482.6" y2="536.6964818988567" stroke="#777" stroke-width="0.6" />
<line x1="480.8" y1="533.1618425977426" x2="482.6" y2="533.1618425977426" stroke="#777" stroke-width="0.6" />
<line x1="480.8" y1="647.3988272996189" x2="482.6" y2="647.3988272996189" stroke="#777" stroke-width="0.6" />
<line x1="480.8" y1="635.2309212988714" x2="482.6" y2="635.2309212988714" stroke="#777" stroke-width="0.6" />
<line x1="480.8" y1="626.5976545992379" x2="482.6" y2="626.5976545992379" stroke="#777" stroke-width="0.6" />
<line x1="480.8" y1="619.9011727003812" x2="482.6" y2="619.9011727003812" stroke="#777" stroke-width="0.6" />
<line x1="480.8" y1="614.4297485984903" x2="482.6" y2="614.4297485984903" stroke="#777" stroke-width="0.6" />
<line x1="480.8" y1="609.8037254350149" x2="482.6" y2="609.8037254350149" stroke="#777" stroke-width="0.6" />
<line x1="480.8" y1="605.7964818988568" x2="482.6" y2="605.7964818988568" stroke="#777" stroke-width="0.6" />
<line x1="480.8" y1="602.2618425977427" x2="482.6" y2="602.2618425977427" stroke="#777" stroke-width="0.6" />
<line x1="480.8" y1="716.4988272996188" x2="482.6" y2="716.4988272996188" stroke="#777" stroke-width="0.6" />
<line x1="480.8" y1="704.3309212988713" x2="482.6" y2="704.3309212988713" stroke="#777" stroke-width="0.6" />
<line x1="480.8" y1="695.6976545992378" x2="482.6" y2="695.6976545992378" stroke="#777" stroke-width="0.6" />
<line x1="480.8" y1="689.0011727003811" x2="482.6" y2="689.0011727003811" stroke="#777" stroke-width="0.6" />
<line x1="480.8" y1="683.5297485984902" x2="482.6" y2="683.5297485984902" stroke="#777" stroke-width="0.6" />
<line x1="480.8" y1="678.9037254350148" x2="482.6" y2="678.9037254350148" stroke="#777" stroke-width="0.6" />
<line x1="480.8" y1="674.8964818988567" x2="482.6" y2="674.8964818988567" stroke="#777" stroke-width="0.6" />
<line x1="480.8" y1="671.3618425977426" x2="482.6" y2="671.3618425977426" stroke="#777" stroke-width="0.6" />
</g>
<g id="panelD">
<text transform="translate(1.75,776.25) scale(1,1.03)" font-size="24" font-weight="bold" text-anchor="start" fill="#111" >D</text>
<text transform="translate(132.1,777.9) scale(1,0.925)" font-size="16" font-weight="bold" text-anchor="middle" fill="#111" >Quantitation of</text>
<text transform="translate(132,796.7) scale(1,0.925)" font-size="16" font-weight="bold" text-anchor="middle" fill="#111" >I<tspan font-style="italic">n Vivo</tspan> Effects</text>
<line x1="52.3" y1="824" x2="52.3" y2="956.8" stroke="#000" stroke-width="2.2" />
<line x1="52.3" y1="955.8" x2="202.5" y2="955.8" stroke="#000" stroke-width="2.2" />
<line x1="44" y1="923.3" x2="52.3" y2="923.3" stroke="#000" stroke-width="1.8" />
<text transform="translate(43.5,927.6999999999999) scale(1,0.925)" font-size="13.4" font-weight="normal" text-anchor="end" fill="#111" >0.5</text>
<line x1="44" y1="890.8" x2="52.3" y2="890.8" stroke="#000" stroke-width="1.8" />
<text transform="translate(43.5,895.1999999999999) scale(1,0.925)" font-size="13.4" font-weight="normal" text-anchor="end" fill="#111" >1.0</text>
<line x1="44" y1="858.3" x2="52.3" y2="858.3" stroke="#000" stroke-width="1.8" />
<text transform="translate(43.5,862.6999999999999) scale(1,0.925)" font-size="13.4" font-weight="normal" text-anchor="end" fill="#111" >1.5</text>
<line x1="44" y1="825.8" x2="52.3" y2="825.8" stroke="#000" stroke-width="1.8" />
<text transform="translate(43.5,830.1999999999999) scale(1,0.925)" font-size="13.4" font-weight="normal" text-anchor="end" fill="#111" >2.0</text>
<text x="0" y="0" font-size="13.4" font-weight="normal" text-anchor="start" fill="#111" transform="translate(22.2,944) rotate(-90) scale(1,0.925)">Photons/Sec X10<tspan dy="-7" font-size="12.8">8</tspan></text>
<rect x="66" y="816" width="116" height="32.5" fill="#fff" stroke="#000" stroke-width="2" />
<line x1="70" y1="826" x2="79" y2="826" stroke="#1228d6" stroke-width="2" />
<line x1="70" y1="838.5" x2="79" y2="838.5" stroke="#ff2600" stroke-width="2" />
<text transform="translate(84.5,830.5) scale(1,0.925)" font-size="13.8" font-weight="normal" text-anchor="start" fill="#111" >Control (n=17)</text>
<text transform="translate(84.5,843.5) scale(1,0.925)" font-size="13.8" font-weight="normal" text-anchor="start" fill="#111" >CX-4945 (n=18)</text>
<text transform="translate(80,907) scale(1,0.925)" font-size="13.6" font-weight="normal" text-anchor="start" fill="#111" ><tspan font-style="italic">P</tspan>=.0004</text>
<line x1="57" y1="949" x2="57" y2="957" stroke="#555" stroke-width="1.1" />
<line x1="55" y1="949" x2="59" y2="949" stroke="#555" stroke-width="1.1" />
<line x1="55" y1="957" x2="59" y2="957" stroke="#555" stroke-width="1.1" />
<line x1="128.3" y1="945" x2="128.3" y2="959" stroke="#444" stroke-width="1.1" />
<line x1="125.30000000000001" y1="945" x2="131.3" y2="945" stroke="#444" stroke-width="1.1" />
<line x1="125.30000000000001" y1="959" x2="131.3" y2="959" stroke="#444" stroke-width="1.1" />
<line x1="199.3" y1="839.5" x2="199.3" y2="878.5" stroke="#444" stroke-width="1.1" />
<line x1="195.8" y1="839.5" x2="202.8" y2="839.5" stroke="#444" stroke-width="1.1" />
<line x1="195.8" y1="878.5" x2="202.8" y2="878.5" stroke="#444" stroke-width="1.1" />
<line x1="199.3" y1="916" x2="199.3" y2="929.5" stroke="#444" stroke-width="1.1" />
<line x1="196.3" y1="916" x2="202.3" y2="916" stroke="#444" stroke-width="1.1" />
<line x1="196.3" y1="929.5" x2="202.3" y2="929.5" stroke="#444" stroke-width="1.1" />
<path d="M54,954 L128.3,950.5 L199.3,859.5" stroke="#1228d6" stroke-width="2.6" fill="none" stroke-linejoin="round"/>
<path d="M54,954.3 L128.3,951.5 L199.3,923.3" stroke="#dc2c1e" stroke-width="2.6" fill="none" stroke-linejoin="round"/>
<text transform="translate(42.5,972) scale(1,0.925)" font-size="13.5" font-weight="normal" text-anchor="start" fill="#111" >Day 0</text>
<text transform="translate(113.5,972.5) scale(1,0.925)" font-size="13.5" font-weight="normal" text-anchor="start" fill="#111" >Day 7</text>
<text transform="translate(176,972) scale(1,0.925)" font-size="13.5" font-weight="normal" text-anchor="start" fill="#111" >Day 14</text>
<line x1="127.5" y1="997" x2="202" y2="997" stroke="#ff2600" stroke-width="2.8" />
<path d="M133.3,974.5 l6,13 h-12 z" fill="#ff2600"/>
<line x1="133.3" y1="987" x2="133.3" y2="997" stroke="#ff2600" stroke-width="2.2" />
<path d="M142.8,974.5 l6,13 h-12 z" fill="#ff2600"/>
<line x1="142.8" y1="987" x2="142.8" y2="997" stroke="#ff2600" stroke-width="2.2" />
<path d="M153.8,974.5 l6,13 h-12 z" fill="#ff2600"/>
<line x1="153.8" y1="987" x2="153.8" y2="997" stroke="#ff2600" stroke-width="2.2" />
<path d="M165,974.5 l6,13 h-12 z" fill="#ff2600"/>
<line x1="165" y1="987" x2="165" y2="997" stroke="#ff2600" stroke-width="2.2" />
<path d="M176.6,974.5 l6,13 h-12 z" fill="#ff2600"/>
<line x1="176.6" y1="987" x2="176.6" y2="997" stroke="#ff2600" stroke-width="2.2" />
<path d="M189.3,974.5 l6,13 h-12 z" fill="#ff2600"/>
<line x1="189.3" y1="987" x2="189.3" y2="997" stroke="#ff2600" stroke-width="2.2" />
<path d="M199.9,974.5 l6,13 h-12 z" fill="#ff2600"/>
<line x1="199.9" y1="987" x2="199.9" y2="997" stroke="#ff2600" stroke-width="2.2" />
</g>
<g id="panelE">
<text transform="translate(254.5,776.25) scale(1,1.03)" font-size="24" font-weight="bold" text-anchor="start" fill="#111" >E</text>
<text transform="translate(389.3,776.9) scale(1,0.925)" font-size="16" font-weight="bold" text-anchor="middle" fill="#111" >CK2 Inhibitor Efffect on</text>
<text transform="translate(389.5,795) scale(1,0.925)" font-size="16" font-weight="bold" text-anchor="middle" fill="#111" >Leukemia Xenograft Survival</text>
<path d="M280.5,816 H328.35 V824 H355.86 V831.5 H365.03 V847.5 H383.37 V855.5 H392.54 V863.5 H401.71 V904.5 H410.88 V944.5 H420.05 V962" stroke="#1228d6" stroke-width="2.4" fill="none" stroke-linejoin="miter"/>
<path d="M280.5,816 H383.37 V829.5 H392.54 V837.5 H401.71 V844 H410.88 V864 H420.05 V891.5 H429.22 V919.5 H438.39 V940 H456.73 V954.5 H514.5" stroke="#dc2c1e" stroke-width="2.4" fill="none" stroke-linejoin="miter"/>
<rect x="279.25" y="813.75" width="235.75" height="148.5" fill="none" stroke="#000" stroke-width="3.2" />
<line x1="280" y1="932.4" x2="283.3" y2="932.4" stroke="#333" stroke-width="1.0" />
<line x1="280" y1="903.3" x2="283.3" y2="903.3" stroke="#333" stroke-width="1.0" />
<line x1="280" y1="874.2" x2="283.3" y2="874.2" stroke="#333" stroke-width="1.0" />
<line x1="280" y1="845.1" x2="283.3" y2="845.1" stroke="#333" stroke-width="1.0" />
<text transform="translate(261.8,823.6) scale(1,0.925)" font-size="13.2" font-weight="normal" text-anchor="end" fill="#111" >100</text>
<text transform="translate(261.8,853.1999999999999) scale(1,0.925)" font-size="13.2" font-weight="normal" text-anchor="end" fill="#111" >80</text>
<text transform="translate(261.8,881.4) scale(1,0.925)" font-size="13.2" font-weight="normal" text-anchor="end" fill="#111" >60</text>
<text transform="translate(261.8,909.8) scale(1,0.925)" font-size="13.2" font-weight="normal" text-anchor="end" fill="#111" >40</text>
<text transform="translate(261.8,938.6999999999999) scale(1,0.925)" font-size="13.2" font-weight="normal" text-anchor="end" fill="#111" >20</text>
<text transform="translate(261.8,966.6999999999999) scale(1,0.925)" font-size="13.2" font-weight="normal" text-anchor="end" fill="#111" >0</text>
<text x="0" y="0" font-size="13.3" font-weight="normal" text-anchor="start" fill="#111" transform="translate(236.2,905.5) rotate(-90) scale(1,0.925)">Survival (%)</text>
<text transform="translate(328.85,978) scale(1,0.925)" font-size="13.6" font-weight="normal" text-anchor="middle" fill="#111" >5</text>
<text transform="translate(374.7,978) scale(1,0.925)" font-size="13.6" font-weight="normal" text-anchor="middle" fill="#111" >10</text>
<text transform="translate(420.55,978) scale(1,0.925)" font-size="13.6" font-weight="normal" text-anchor="middle" fill="#111" >15</text>
<text transform="translate(466.4,978) scale(1,0.925)" font-size="13.6" font-weight="normal" text-anchor="middle" fill="#111" >20</text>
<text transform="translate(508.3,978) scale(1,0.925)" font-size="13.6" font-weight="normal" text-anchor="start" fill="#111" >25</text>
<text transform="translate(312,940.8) scale(1,0.925)" font-size="13.6" font-weight="normal" text-anchor="start" fill="#111" ><tspan font-style="italic">P</tspan>=.0001</text>
<line x1="281.5" y1="999.8" x2="370.5" y2="999.8" stroke="#ff2600" stroke-width="3" />
<path d="M283.0,978.3 l6.4,13.6 h-12.8 z" fill="#ff2600"/>
<line x1="283.0" y1="991" x2="283.0" y2="1000" stroke="#ff2600" stroke-width="2.5" />
<path d="M292.5,978.3 l6.4,13.6 h-12.8 z" fill="#ff2600"/>
<line x1="292.53" y1="991" x2="292.53" y2="1000" stroke="#ff2600" stroke-width="2.5" />
<path d="M302.1,978.3 l6.4,13.6 h-12.8 z" fill="#ff2600"/>
<line x1="302.06" y1="991" x2="302.06" y2="1000" stroke="#ff2600" stroke-width="2.5" />
<path d="M311.6,978.3 l6.4,13.6 h-12.8 z" fill="#ff2600"/>
<line x1="311.59" y1="991" x2="311.59" y2="1000" stroke="#ff2600" stroke-width="2.5" />
<path d="M321.1,978.3 l6.4,13.6 h-12.8 z" fill="#ff2600"/>
<line x1="321.12" y1="991" x2="321.12" y2="1000" stroke="#ff2600" stroke-width="2.5" />
<path d="M330.6,978.3 l6.4,13.6 h-12.8 z" fill="#ff2600"/>
<line x1="330.65" y1="991" x2="330.65" y2="1000" stroke="#ff2600" stroke-width="2.5" />
<path d="M340.2,978.3 l6.4,13.6 h-12.8 z" fill="#ff2600"/>
<line x1="340.18" y1="991" x2="340.18" y2="1000" stroke="#ff2600" stroke-width="2.5" />
<path d="M349.7,978.3 l6.4,13.6 h-12.8 z" fill="#ff2600"/>
<line x1="349.71" y1="991" x2="349.71" y2="1000" stroke="#ff2600" stroke-width="2.5" />
<path d="M359.2,978.3 l6.4,13.6 h-12.8 z" fill="#ff2600"/>
<line x1="359.24" y1="991" x2="359.24" y2="1000" stroke="#ff2600" stroke-width="2.5" />
<path d="M368.8,978.3 l6.4,13.6 h-12.8 z" fill="#ff2600"/>
<line x1="368.77" y1="991" x2="368.77" y2="1000" stroke="#ff2600" stroke-width="2.5" />
<text transform="translate(329,1020) scale(1,0.925)" font-size="13.3" font-weight="normal" text-anchor="middle" fill="#111" >CX-4945</text>
<text transform="translate(329,1036) scale(1,0.925)" font-size="13.3" font-weight="normal" text-anchor="middle" fill="#111" >75 mg/Kg/Day</text>
<rect x="395" y="986.5" width="118.5" height="33.5" fill="#fff" stroke="#000" stroke-width="2" />
<line x1="399.5" y1="997" x2="409.5" y2="997" stroke="#1228d6" stroke-width="2" />
<line x1="399.5" y1="1009" x2="409.5" y2="1009" stroke="#ff2600" stroke-width="2" />
<text transform="translate(414,1001.5) scale(1,0.925)" font-size="13.7" font-weight="normal" text-anchor="start" fill="#111" >Control (n=18)</text>
<text transform="translate(414,1014.5) scale(1,0.925)" font-size="13.7" font-weight="normal" text-anchor="start" fill="#111" >CX-4945 (n=21)</text>
</g>
</svg></body></html>
